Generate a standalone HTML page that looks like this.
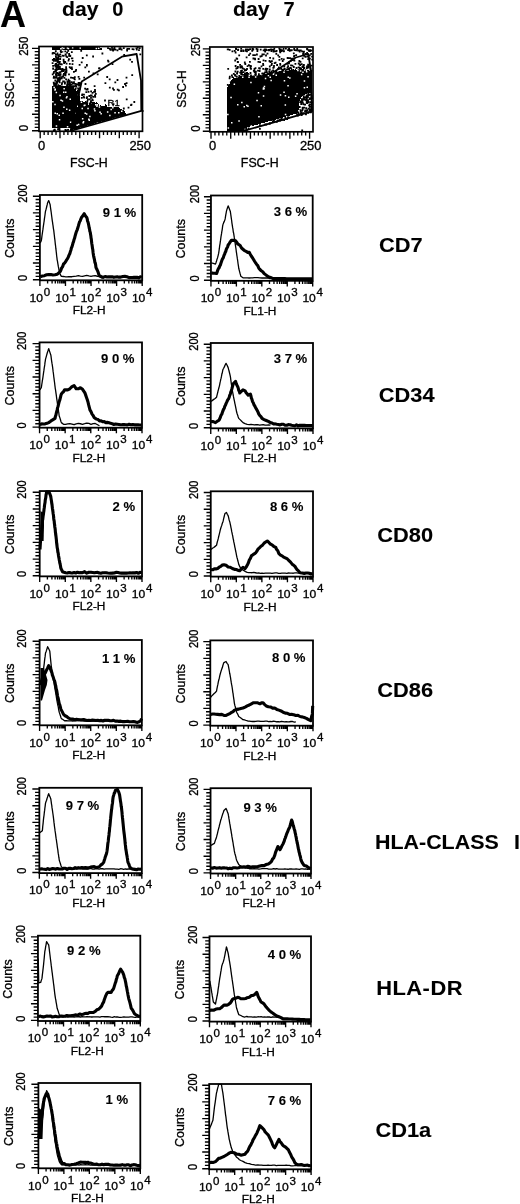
<!DOCTYPE html>
<html><head><meta charset="utf-8"><style>html,body{margin:0;padding:0;background:#fff;}svg{display:block;will-change:transform;}</style></head><body>
<svg width="520" height="1204" viewBox="0 0 520 1204" font-family='"Liberation Sans", sans-serif'>
<style>text[font-weight="normal"]{stroke:#000;stroke-width:0.3px;}text[font-weight="bold"]{stroke:#000;stroke-width:0.1px;}</style>
<rect width="520" height="1204" fill="#fff"/>
<text x="0" y="27" font-size="36" font-weight="bold" text-anchor="start" >A</text>
<text transform="translate(62 16.2) scale(1.06 1)" font-size="20" font-weight="bold" text-anchor="start" >day</text>
<text x="112.3" y="16.2" font-size="20" font-weight="bold" text-anchor="start" >0</text>
<text transform="translate(233.1 16.2) scale(1.06 1)" font-size="20" font-weight="bold" text-anchor="start" >day</text>
<text x="283.5" y="16.2" font-size="20" font-weight="bold" text-anchor="start" >7</text>
<path d="M52 47h48v1h-48zM52 48h48v1h-48zM52 49h48v1h-48zM52 86h20v1h-20zM52 87h22v1h-22zM52 88h22v1h-22zM52 89h23v1h-23zM78 89h1v1h-1zM52 90h24v1h-24zM77 90h2v1h-2zM52 91h27v1h-27zM52 92h27v1h-27zM52 93h27v1h-27zM52 94h28v1h-28zM52 95h28v1h-28zM52 96h28v1h-28zM52 97h28v1h-28zM52 98h28v1h-28zM52 99h28v1h-28zM52 100h28v1h-28zM52 101h31v1h-31zM85 101h1v1h-1zM52 102h35v1h-35zM93 102h2v1h-2zM96 102h1v1h-1zM52 103h36v1h-36zM89 103h2v1h-2zM92 103h6v1h-6zM52 104h36v1h-36zM89 104h10v1h-10zM105 104h1v1h-1zM52 105h47v1h-47zM100 105h1v1h-1zM105 105h2v1h-2zM52 106h55v1h-55zM52 107h67v1h-67zM52 108h68v1h-68zM52 109h70v1h-70zM52 110h72v1h-72zM52 111h73v1h-73zM52 112h73v1h-73zM52 113h74v1h-74zM52 114h74v1h-74zM52 115h71v1h-71zM52 116h67v1h-67zM52 117h64v1h-64zM52 118h60v1h-60zM52 119h57v1h-57zM52 120h53v1h-53zM52 121h49v1h-49zM52 122h46v1h-46zM52 123h42v1h-42zM52 124h39v1h-39zM52 125h35v1h-35zM52 126h32v1h-32zM52 127h28v1h-28zM72 128h5v1h-5zM72 129h1v1h-1z" fill="#000"/>
<path d="M107.1 47.2h1.8v1.8h-1.8zM111.1 46.9h1.8v1.8h-1.8zM113.6 46.9h1.8v1.8h-1.8zM113.2 47.7h1.8v1.8h-1.8zM118.5 47.5h1.8v1.8h-1.8zM119.5 47.2h1.8v1.8h-1.8zM122.9 47.2h1.8v1.8h-1.8zM135.5 47.5h1.8v1.8h-1.8zM136.8 46.7h1.8v1.8h-1.8zM138.8 47.3h1.8v1.8h-1.8zM100.2 48.1h1.8v1.8h-1.8zM100.0 47.9h1.8v1.8h-1.8zM108.9 48.0h1.8v1.8h-1.8zM109.7 48.5h1.8v1.8h-1.8zM113.6 48.4h1.8v1.8h-1.8zM113.2 48.7h1.8v1.8h-1.8zM118.5 48.3h1.8v1.8h-1.8zM119.0 48.0h1.8v1.8h-1.8zM120.7 48.6h1.8v1.8h-1.8zM126.5 48.0h1.8v1.8h-1.8zM128.3 47.9h1.8v1.8h-1.8zM131.6 48.2h1.8v1.8h-1.8zM132.7 48.4h1.8v1.8h-1.8zM135.9 48.7h1.8v1.8h-1.8zM109.6 48.9h1.8v1.8h-1.8zM111.6 48.9h1.8v1.8h-1.8zM112.0 48.8h1.8v1.8h-1.8zM112.2 49.6h1.8v1.8h-1.8zM114.6 48.7h1.8v1.8h-1.8zM116.6 49.5h1.8v1.8h-1.8zM126.2 49.6h1.8v1.8h-1.8zM126.2 49.1h1.8v1.8h-1.8zM138.1 49.3h1.8v1.8h-1.8zM54.9 50.2h1.8v1.8h-1.8zM60.3 49.7h1.8v1.8h-1.8zM59.8 50.2h1.8v1.8h-1.8zM61.5 50.6h1.8v1.8h-1.8zM64.4 50.4h1.8v1.8h-1.8zM67.3 49.9h1.8v1.8h-1.8zM80.3 50.0h1.8v1.8h-1.8zM60.2 51.3h1.8v1.8h-1.8zM66.2 51.7h1.8v1.8h-1.8zM70.9 51.3h1.8v1.8h-1.8zM51.7 52.6h1.8v1.8h-1.8zM52.3 52.0h1.8v1.8h-1.8zM53.9 52.3h1.8v1.8h-1.8zM56.6 52.4h1.8v1.8h-1.8zM101.5 52.6h1.8v1.8h-1.8zM59.4 53.4h1.8v1.8h-1.8zM64.6 53.6h1.8v1.8h-1.8zM64.8 53.5h1.8v1.8h-1.8zM68.2 53.1h1.8v1.8h-1.8zM139.4 53.4h1.8v1.8h-1.8zM54.9 53.8h1.8v1.8h-1.8zM56.6 53.9h1.8v1.8h-1.8zM57.8 54.2h1.8v1.8h-1.8zM85.9 54.4h1.8v1.8h-1.8zM123.3 54.1h1.8v1.8h-1.8zM55.0 55.7h1.8v1.8h-1.8zM58.1 55.5h1.8v1.8h-1.8zM61.8 54.8h1.8v1.8h-1.8zM62.7 55.0h1.8v1.8h-1.8zM65.4 55.5h1.8v1.8h-1.8zM68.2 55.0h1.8v1.8h-1.8zM69.3 55.1h1.8v1.8h-1.8zM69.4 54.8h1.8v1.8h-1.8zM92.2 55.6h1.8v1.8h-1.8zM57.4 55.9h1.8v1.8h-1.8zM59.7 55.7h1.8v1.8h-1.8zM66.3 56.2h1.8v1.8h-1.8zM55.3 56.7h1.8v1.8h-1.8zM56.1 57.3h1.8v1.8h-1.8zM56.6 57.2h1.8v1.8h-1.8zM57.1 57.6h1.8v1.8h-1.8zM71.5 57.5h1.8v1.8h-1.8zM70.9 57.5h1.8v1.8h-1.8zM81.8 57.1h1.8v1.8h-1.8zM53.0 57.9h1.8v1.8h-1.8zM53.5 58.6h1.8v1.8h-1.8zM53.7 57.9h1.8v1.8h-1.8zM57.4 58.4h1.8v1.8h-1.8zM57.4 58.2h1.8v1.8h-1.8zM59.3 58.1h1.8v1.8h-1.8zM62.7 58.7h1.8v1.8h-1.8zM68.0 58.2h1.8v1.8h-1.8zM51.9 58.9h1.8v1.8h-1.8zM55.5 59.1h1.8v1.8h-1.8zM56.4 59.0h1.8v1.8h-1.8zM67.6 59.7h1.8v1.8h-1.8zM107.1 59.7h1.8v1.8h-1.8zM129.3 58.8h1.8v1.8h-1.8zM52.9 60.0h1.8v1.8h-1.8zM54.8 60.0h1.8v1.8h-1.8zM56.7 59.8h1.8v1.8h-1.8zM57.3 60.5h1.8v1.8h-1.8zM57.0 60.7h1.8v1.8h-1.8zM62.8 60.0h1.8v1.8h-1.8zM71.8 60.0h1.8v1.8h-1.8zM56.6 61.2h1.8v1.8h-1.8zM58.2 61.3h1.8v1.8h-1.8zM59.0 61.0h1.8v1.8h-1.8zM63.1 61.4h1.8v1.8h-1.8zM64.3 61.1h1.8v1.8h-1.8zM80.8 61.4h1.8v1.8h-1.8zM107.6 60.7h1.8v1.8h-1.8zM131.1 60.9h1.8v1.8h-1.8zM51.7 62.2h1.8v1.8h-1.8zM63.3 62.2h1.8v1.8h-1.8zM54.8 62.9h1.8v1.8h-1.8zM55.2 63.7h1.8v1.8h-1.8zM55.4 62.9h1.8v1.8h-1.8zM57.6 63.6h1.8v1.8h-1.8zM58.4 63.0h1.8v1.8h-1.8zM60.0 63.3h1.8v1.8h-1.8zM60.9 63.5h1.8v1.8h-1.8zM65.7 62.8h1.8v1.8h-1.8zM68.9 63.0h1.8v1.8h-1.8zM71.6 63.2h1.8v1.8h-1.8zM111.6 63.3h1.8v1.8h-1.8zM54.1 64.5h1.8v1.8h-1.8zM55.4 63.9h1.8v1.8h-1.8zM56.2 64.3h1.8v1.8h-1.8zM57.5 64.3h1.8v1.8h-1.8zM78.7 63.9h1.8v1.8h-1.8zM86.0 64.7h1.8v1.8h-1.8zM86.0 63.9h1.8v1.8h-1.8zM52.2 64.9h1.8v1.8h-1.8zM54.8 64.8h1.8v1.8h-1.8zM55.7 65.3h1.8v1.8h-1.8zM57.2 65.6h1.8v1.8h-1.8zM54.7 65.8h1.8v1.8h-1.8zM59.0 65.8h1.8v1.8h-1.8zM65.2 66.3h1.8v1.8h-1.8zM68.8 66.2h1.8v1.8h-1.8zM70.9 66.6h1.8v1.8h-1.8zM84.4 66.4h1.8v1.8h-1.8zM52.2 67.4h1.8v1.8h-1.8zM55.8 66.8h1.8v1.8h-1.8zM57.4 66.8h1.8v1.8h-1.8zM59.0 67.3h1.8v1.8h-1.8zM69.7 67.2h1.8v1.8h-1.8zM98.1 67.4h1.8v1.8h-1.8zM98.6 67.2h1.8v1.8h-1.8zM52.3 68.0h1.8v1.8h-1.8zM55.5 67.7h1.8v1.8h-1.8zM57.5 68.1h1.8v1.8h-1.8zM59.6 68.1h1.8v1.8h-1.8zM59.6 68.0h1.8v1.8h-1.8zM58.9 68.0h1.8v1.8h-1.8zM60.8 68.4h1.8v1.8h-1.8zM61.7 68.0h1.8v1.8h-1.8zM65.4 68.1h1.8v1.8h-1.8zM64.7 68.5h1.8v1.8h-1.8zM71.1 68.2h1.8v1.8h-1.8zM54.4 69.0h1.8v1.8h-1.8zM55.0 68.7h1.8v1.8h-1.8zM55.2 69.6h1.8v1.8h-1.8zM55.9 68.9h1.8v1.8h-1.8zM61.3 69.0h1.8v1.8h-1.8zM61.7 68.9h1.8v1.8h-1.8zM63.0 68.9h1.8v1.8h-1.8zM75.2 68.9h1.8v1.8h-1.8zM54.7 70.3h1.8v1.8h-1.8zM54.9 70.2h1.8v1.8h-1.8zM60.7 70.5h1.8v1.8h-1.8zM62.3 70.2h1.8v1.8h-1.8zM64.5 70.6h1.8v1.8h-1.8zM65.6 69.8h1.8v1.8h-1.8zM74.7 70.3h1.8v1.8h-1.8zM53.1 70.9h1.8v1.8h-1.8zM58.6 71.4h1.8v1.8h-1.8zM59.5 71.3h1.8v1.8h-1.8zM65.5 71.4h1.8v1.8h-1.8zM73.0 71.0h1.8v1.8h-1.8zM88.0 70.7h1.8v1.8h-1.8zM52.8 72.1h1.8v1.8h-1.8zM55.3 72.1h1.8v1.8h-1.8zM56.3 72.5h1.8v1.8h-1.8zM56.6 72.3h1.8v1.8h-1.8zM56.2 71.9h1.8v1.8h-1.8zM64.1 71.8h1.8v1.8h-1.8zM64.1 71.9h1.8v1.8h-1.8zM92.6 72.5h1.8v1.8h-1.8zM51.8 73.5h1.8v1.8h-1.8zM55.1 73.5h1.8v1.8h-1.8zM57.5 72.9h1.8v1.8h-1.8zM57.3 73.6h1.8v1.8h-1.8zM57.6 72.9h1.8v1.8h-1.8zM58.2 73.5h1.8v1.8h-1.8zM59.6 73.6h1.8v1.8h-1.8zM59.7 73.3h1.8v1.8h-1.8zM63.0 73.0h1.8v1.8h-1.8zM64.2 72.8h1.8v1.8h-1.8zM64.7 72.9h1.8v1.8h-1.8zM68.1 73.4h1.8v1.8h-1.8zM96.8 73.5h1.8v1.8h-1.8zM55.2 74.0h1.8v1.8h-1.8zM55.0 73.7h1.8v1.8h-1.8zM57.5 74.5h1.8v1.8h-1.8zM59.3 73.8h1.8v1.8h-1.8zM62.6 74.2h1.8v1.8h-1.8zM64.6 74.4h1.8v1.8h-1.8zM131.3 74.2h1.8v1.8h-1.8zM55.5 75.0h1.8v1.8h-1.8zM59.0 75.0h1.8v1.8h-1.8zM53.0 75.7h1.8v1.8h-1.8zM54.5 76.5h1.8v1.8h-1.8zM55.1 76.3h1.8v1.8h-1.8zM60.4 76.4h1.8v1.8h-1.8zM61.4 75.8h1.8v1.8h-1.8zM62.3 75.8h1.8v1.8h-1.8zM73.9 76.2h1.8v1.8h-1.8zM77.7 76.0h1.8v1.8h-1.8zM106.3 76.1h1.8v1.8h-1.8zM125.6 76.7h1.8v1.8h-1.8zM52.8 76.9h1.8v1.8h-1.8zM54.0 76.9h1.8v1.8h-1.8zM55.9 76.8h1.8v1.8h-1.8zM58.2 77.2h1.8v1.8h-1.8zM58.2 77.1h1.8v1.8h-1.8zM58.6 77.3h1.8v1.8h-1.8zM59.7 77.3h1.8v1.8h-1.8zM60.9 77.5h1.8v1.8h-1.8zM63.5 76.9h1.8v1.8h-1.8zM70.1 76.7h1.8v1.8h-1.8zM71.9 76.9h1.8v1.8h-1.8zM73.4 77.6h1.8v1.8h-1.8zM83.3 76.8h1.8v1.8h-1.8zM56.6 77.8h1.8v1.8h-1.8zM57.7 78.7h1.8v1.8h-1.8zM57.5 78.3h1.8v1.8h-1.8zM57.8 77.8h1.8v1.8h-1.8zM58.8 78.6h1.8v1.8h-1.8zM59.6 77.8h1.8v1.8h-1.8zM65.2 78.4h1.8v1.8h-1.8zM73.9 78.5h1.8v1.8h-1.8zM78.5 77.9h1.8v1.8h-1.8zM108.8 78.4h1.8v1.8h-1.8zM54.4 79.6h1.8v1.8h-1.8zM57.1 78.8h1.8v1.8h-1.8zM58.2 78.9h1.8v1.8h-1.8zM59.0 78.9h1.8v1.8h-1.8zM67.6 78.8h1.8v1.8h-1.8zM116.6 79.1h1.8v1.8h-1.8zM56.6 80.0h1.8v1.8h-1.8zM58.4 80.3h1.8v1.8h-1.8zM62.2 80.6h1.8v1.8h-1.8zM63.0 80.6h1.8v1.8h-1.8zM62.8 80.6h1.8v1.8h-1.8zM66.5 80.5h1.8v1.8h-1.8zM67.9 80.4h1.8v1.8h-1.8zM68.7 80.1h1.8v1.8h-1.8zM55.6 80.9h1.8v1.8h-1.8zM55.8 81.1h1.8v1.8h-1.8zM56.3 81.0h1.8v1.8h-1.8zM56.4 81.6h1.8v1.8h-1.8zM58.8 81.4h1.8v1.8h-1.8zM64.1 81.5h1.8v1.8h-1.8zM69.0 81.4h1.8v1.8h-1.8zM70.9 81.2h1.8v1.8h-1.8zM73.1 81.3h1.8v1.8h-1.8zM114.4 81.4h1.8v1.8h-1.8zM52.8 81.8h1.8v1.8h-1.8zM53.0 82.4h1.8v1.8h-1.8zM54.2 82.6h1.8v1.8h-1.8zM55.9 82.5h1.8v1.8h-1.8zM61.1 82.3h1.8v1.8h-1.8zM66.6 81.8h1.8v1.8h-1.8zM66.8 82.5h1.8v1.8h-1.8zM67.1 82.3h1.8v1.8h-1.8zM66.8 82.7h1.8v1.8h-1.8zM69.0 82.2h1.8v1.8h-1.8zM72.6 82.2h1.8v1.8h-1.8zM72.8 82.4h1.8v1.8h-1.8zM77.7 82.1h1.8v1.8h-1.8zM78.4 82.1h1.8v1.8h-1.8zM79.3 82.3h1.8v1.8h-1.8zM104.5 82.3h1.8v1.8h-1.8zM125.7 82.2h1.8v1.8h-1.8zM53.2 83.6h1.8v1.8h-1.8zM54.2 83.1h1.8v1.8h-1.8zM60.9 83.7h1.8v1.8h-1.8zM64.0 82.8h1.8v1.8h-1.8zM67.6 83.7h1.8v1.8h-1.8zM70.2 83.4h1.8v1.8h-1.8zM72.0 82.8h1.8v1.8h-1.8zM74.2 82.9h1.8v1.8h-1.8zM75.4 83.2h1.8v1.8h-1.8zM76.2 83.6h1.8v1.8h-1.8zM79.1 83.0h1.8v1.8h-1.8zM79.0 83.7h1.8v1.8h-1.8zM84.6 83.1h1.8v1.8h-1.8zM124.1 83.1h1.8v1.8h-1.8zM55.2 83.9h1.8v1.8h-1.8zM57.4 84.2h1.8v1.8h-1.8zM66.4 83.8h1.8v1.8h-1.8zM66.1 84.5h1.8v1.8h-1.8zM68.5 84.0h1.8v1.8h-1.8zM70.6 84.0h1.8v1.8h-1.8zM77.8 83.8h1.8v1.8h-1.8zM78.2 83.9h1.8v1.8h-1.8zM53.3 84.8h1.8v1.8h-1.8zM54.5 84.9h1.8v1.8h-1.8zM55.0 84.7h1.8v1.8h-1.8zM57.2 85.1h1.8v1.8h-1.8zM57.7 84.9h1.8v1.8h-1.8zM59.1 85.0h1.8v1.8h-1.8zM66.7 85.6h1.8v1.8h-1.8zM69.1 84.7h1.8v1.8h-1.8zM69.1 84.9h1.8v1.8h-1.8zM71.6 85.5h1.8v1.8h-1.8zM72.2 85.5h1.8v1.8h-1.8zM72.8 85.2h1.8v1.8h-1.8zM73.3 85.5h1.8v1.8h-1.8zM75.4 85.7h1.8v1.8h-1.8zM74.8 85.0h1.8v1.8h-1.8zM78.1 84.7h1.8v1.8h-1.8zM93.7 85.3h1.8v1.8h-1.8zM125.0 84.7h1.8v1.8h-1.8zM122.2 86.1h1.8v1.8h-1.8zM74.8 87.7h1.8v1.8h-1.8zM77.2 87.5h1.8v1.8h-1.8zM79.2 87.2h1.8v1.8h-1.8zM108.9 86.8h1.8v1.8h-1.8zM112.1 87.6h1.8v1.8h-1.8zM74.3 88.5h1.8v1.8h-1.8zM78.3 88.7h1.8v1.8h-1.8zM78.7 88.5h1.8v1.8h-1.8zM84.2 87.7h1.8v1.8h-1.8zM86.6 88.1h1.8v1.8h-1.8zM116.8 88.7h1.8v1.8h-1.8zM77.6 89.2h1.8v1.8h-1.8zM85.5 88.7h1.8v1.8h-1.8zM86.7 88.7h1.8v1.8h-1.8zM94.1 89.1h1.8v1.8h-1.8zM113.0 88.9h1.8v1.8h-1.8zM118.0 89.5h1.8v1.8h-1.8zM90.2 90.4h1.8v1.8h-1.8zM85.4 91.2h1.8v1.8h-1.8zM87.6 90.9h1.8v1.8h-1.8zM93.2 91.0h1.8v1.8h-1.8zM94.2 90.8h1.8v1.8h-1.8zM94.1 90.9h1.8v1.8h-1.8zM91.6 92.0h1.8v1.8h-1.8zM81.5 93.6h1.8v1.8h-1.8zM94.9 92.9h1.8v1.8h-1.8zM81.2 94.2h1.8v1.8h-1.8zM83.1 93.8h1.8v1.8h-1.8zM90.0 94.6h1.8v1.8h-1.8zM90.8 94.6h1.8v1.8h-1.8zM94.0 94.6h1.8v1.8h-1.8zM88.4 95.1h1.8v1.8h-1.8zM94.2 95.0h1.8v1.8h-1.8zM82.8 95.9h1.8v1.8h-1.8zM86.1 96.2h1.8v1.8h-1.8zM90.1 96.7h1.8v1.8h-1.8zM92.3 96.0h1.8v1.8h-1.8zM94.3 95.9h1.8v1.8h-1.8zM80.9 97.0h1.8v1.8h-1.8zM83.3 96.7h1.8v1.8h-1.8zM85.9 97.1h1.8v1.8h-1.8zM87.0 98.6h1.8v1.8h-1.8zM88.9 98.4h1.8v1.8h-1.8zM91.4 98.6h1.8v1.8h-1.8zM125.8 98.5h1.8v1.8h-1.8zM91.9 99.4h1.8v1.8h-1.8zM104.1 99.6h1.8v1.8h-1.8zM86.4 100.4h1.8v1.8h-1.8zM90.1 100.2h1.8v1.8h-1.8zM86.1 101.6h1.8v1.8h-1.8zM90.0 101.2h1.8v1.8h-1.8zM133.4 101.1h1.8v1.8h-1.8zM88.8 102.6h1.8v1.8h-1.8zM91.3 102.3h1.8v1.8h-1.8zM91.8 102.1h1.8v1.8h-1.8zM112.6 103.3h1.8v1.8h-1.8zM130.6 103.7h1.8v1.8h-1.8zM130.1 104.3h1.8v1.8h-1.8zM127.6 106.7h1.8v1.8h-1.8zM122.9 107.6h1.8v1.8h-1.8zM141.7 110.1h1.8v1.8h-1.8zM57.1 128.2h1.8v1.8h-1.8zM57.3 128.4h1.8v1.8h-1.8zM58.6 127.8h1.8v1.8h-1.8zM58.3 128.1h1.8v1.8h-1.8zM70.7 128.6h1.8v1.8h-1.8zM52.9 129.6h1.8v1.8h-1.8zM54.0 129.5h1.8v1.8h-1.8zM53.8 128.8h1.8v1.8h-1.8zM58.7 129.2h1.8v1.8h-1.8zM64.5 128.9h1.8v1.8h-1.8zM65.4 129.5h1.8v1.8h-1.8zM64.8 129.5h1.8v1.8h-1.8zM67.2 128.9h1.8v1.8h-1.8zM71.2 129.0h1.8v1.8h-1.8z" fill="#000"/>
<path d="M61.5 47.1h1.5v1.5h-1.5zM63.1 47.4h1.5v1.5h-1.5zM66.7 47.2h1.5v1.5h-1.5zM71.9 47.1h1.5v1.5h-1.5zM79.5 47.3h1.5v1.5h-1.5zM97.9 47.5h1.5v1.5h-1.5zM60.1 48.1h1.5v1.5h-1.5zM67.7 47.8h1.5v1.5h-1.5zM95.6 47.7h1.5v1.5h-1.5zM61.7 49.7h1.5v1.5h-1.5zM53.4 86.8h1.5v1.5h-1.5zM54.5 88.5h1.5v1.5h-1.5zM63.4 88.1h1.5v1.5h-1.5zM54.3 89.3h1.5v1.5h-1.5zM63.0 91.4h1.5v1.5h-1.5zM65.0 91.6h1.5v1.5h-1.5zM55.6 91.8h1.5v1.5h-1.5zM77.8 94.2h1.5v1.5h-1.5zM59.3 94.8h1.5v1.5h-1.5zM66.2 96.0h1.5v1.5h-1.5zM65.7 96.9h1.5v1.5h-1.5zM69.5 98.4h1.5v1.5h-1.5zM60.3 99.4h1.5v1.5h-1.5zM61.7 100.3h1.5v1.5h-1.5zM52.1 101.1h1.5v1.5h-1.5zM80.7 101.4h1.5v1.5h-1.5zM54.3 103.7h1.5v1.5h-1.5zM84.1 104.5h1.5v1.5h-1.5zM95.0 104.1h1.5v1.5h-1.5zM96.7 104.1h1.5v1.5h-1.5zM76.5 105.4h1.5v1.5h-1.5zM83.5 104.8h1.5v1.5h-1.5zM96.2 105.4h1.5v1.5h-1.5zM63.2 106.5h1.5v1.5h-1.5zM98.7 106.3h1.5v1.5h-1.5zM112.1 107.1h1.5v1.5h-1.5zM66.0 108.6h1.5v1.5h-1.5zM81.5 107.8h1.5v1.5h-1.5zM87.3 107.7h1.5v1.5h-1.5zM93.7 108.2h1.5v1.5h-1.5zM68.9 109.6h1.5v1.5h-1.5zM110.4 108.8h1.5v1.5h-1.5zM94.2 110.0h1.5v1.5h-1.5zM121.0 110.6h1.5v1.5h-1.5zM99.3 111.4h1.5v1.5h-1.5zM106.9 111.2h1.5v1.5h-1.5zM54.5 112.5h1.5v1.5h-1.5zM62.3 112.5h1.5v1.5h-1.5zM74.1 112.5h1.5v1.5h-1.5zM84.5 112.6h1.5v1.5h-1.5zM114.3 112.0h1.5v1.5h-1.5zM118.0 111.9h1.5v1.5h-1.5zM56.5 113.1h1.5v1.5h-1.5zM85.9 113.2h1.5v1.5h-1.5zM100.4 112.9h1.5v1.5h-1.5zM58.5 114.6h1.5v1.5h-1.5zM109.1 114.7h1.5v1.5h-1.5zM89.1 115.7h1.5v1.5h-1.5zM114.7 117.4h1.5v1.5h-1.5zM81.9 118.1h1.5v1.5h-1.5zM88.1 118.6h1.5v1.5h-1.5zM58.8 118.9h1.5v1.5h-1.5zM88.5 119.5h1.5v1.5h-1.5zM69.9 121.5h1.5v1.5h-1.5zM82.8 120.9h1.5v1.5h-1.5zM82.4 121.9h1.5v1.5h-1.5zM96.8 121.9h1.5v1.5h-1.5zM76.4 124.6h1.5v1.5h-1.5zM77.9 123.7h1.5v1.5h-1.5zM55.7 125.3h1.5v1.5h-1.5zM66.8 126.1h1.5v1.5h-1.5z" fill="#fff"/>
<path d="M301 68h1v1h-1zM303 68h2v1h-2zM283 69h1v1h-1zM289 69h1v1h-1zM291 69h1v1h-1zM293 69h1v1h-1zM295 69h1v1h-1zM301 69h5v1h-5zM283 70h1v1h-1zM285 70h1v1h-1zM289 70h9v1h-9zM299 70h7v1h-7zM307 70h2v1h-2zM311 70h1v1h-1zM279 71h33v1h-33zM246 72h2v1h-2zM269 72h4v1h-4zM276 72h36v1h-36zM244 73h5v1h-5zM262 73h1v1h-1zM269 73h5v1h-5zM276 73h36v1h-36zM244 74h6v1h-6zM262 74h5v1h-5zM268 74h44v1h-44zM244 75h7v1h-7zM255 75h1v1h-1zM258 75h1v1h-1zM261 75h51v1h-51zM239 76h14v1h-14zM254 76h58v1h-58zM233 77h1v1h-1zM238 77h74v1h-74zM233 78h79v1h-79zM232 79h80v1h-80zM231 80h81v1h-81zM231 81h81v1h-81zM230 82h82v1h-82zM230 83h82v1h-82zM229 84h83v1h-83zM228 85h84v1h-84zM228 86h84v1h-84zM227 87h85v1h-85zM227 88h85v1h-85zM227 89h85v1h-85zM227 90h85v1h-85zM227 91h85v1h-85zM227 92h85v1h-85zM227 93h80v1h-80zM227 94h78v1h-78zM227 95h76v1h-76zM227 96h75v1h-75zM227 97h74v1h-74zM227 98h74v1h-74zM227 99h73v1h-73zM227 100h73v1h-73zM227 101h72v1h-72zM227 102h72v1h-72zM227 103h72v1h-72zM227 104h72v1h-72zM227 105h72v1h-72zM227 106h72v1h-72zM227 107h72v1h-72zM227 108h72v1h-72zM227 109h72v1h-72zM227 110h72v1h-72zM227 111h72v1h-72zM227 112h72v1h-72zM227 113h70v1h-70zM227 114h66v1h-66zM227 115h63v1h-63zM227 116h59v1h-59zM227 117h56v1h-56zM227 118h52v1h-52zM227 119h49v1h-49zM227 120h45v1h-45zM227 121h41v1h-41zM227 122h38v1h-38zM227 123h34v1h-34zM227 124h31v1h-31zM227 125h27v1h-27zM227 126h23v1h-23zM227 127h20v1h-20zM227 128h16v1h-16zM227 129h16v1h-16zM227 130h16v1h-16z" fill="#000"/>
<path d="M226.8 48.5h1.8v1.8h-1.8zM227.4 48.4h1.8v1.8h-1.8zM235.2 48.1h1.8v1.8h-1.8zM235.0 47.7h1.8v1.8h-1.8zM240.3 47.9h1.8v1.8h-1.8zM244.9 48.6h1.8v1.8h-1.8zM246.6 48.5h1.8v1.8h-1.8zM247.7 48.7h1.8v1.8h-1.8zM249.2 48.2h1.8v1.8h-1.8zM251.5 48.1h1.8v1.8h-1.8zM252.3 48.6h1.8v1.8h-1.8zM252.4 48.2h1.8v1.8h-1.8zM255.6 48.0h1.8v1.8h-1.8zM256.7 48.4h1.8v1.8h-1.8zM263.8 48.5h1.8v1.8h-1.8zM264.9 48.4h1.8v1.8h-1.8zM270.2 48.6h1.8v1.8h-1.8zM273.4 47.7h1.8v1.8h-1.8zM278.4 47.7h1.8v1.8h-1.8zM279.9 48.4h1.8v1.8h-1.8zM282.7 48.0h1.8v1.8h-1.8zM285.0 47.7h1.8v1.8h-1.8zM287.6 48.5h1.8v1.8h-1.8zM288.2 47.9h1.8v1.8h-1.8zM293.3 48.1h1.8v1.8h-1.8zM296.3 48.1h1.8v1.8h-1.8zM306.1 48.0h1.8v1.8h-1.8zM306.3 48.3h1.8v1.8h-1.8zM306.5 48.4h1.8v1.8h-1.8zM228.8 48.9h1.8v1.8h-1.8zM237.1 49.2h1.8v1.8h-1.8zM237.3 48.8h1.8v1.8h-1.8zM242.2 49.6h1.8v1.8h-1.8zM244.7 49.4h1.8v1.8h-1.8zM247.7 49.2h1.8v1.8h-1.8zM256.5 48.9h1.8v1.8h-1.8zM259.8 48.8h1.8v1.8h-1.8zM262.7 49.4h1.8v1.8h-1.8zM265.2 49.1h1.8v1.8h-1.8zM267.2 49.2h1.8v1.8h-1.8zM268.0 48.9h1.8v1.8h-1.8zM268.2 49.0h1.8v1.8h-1.8zM268.1 49.4h1.8v1.8h-1.8zM269.5 48.8h1.8v1.8h-1.8zM271.1 48.8h1.8v1.8h-1.8zM272.8 49.0h1.8v1.8h-1.8zM272.9 49.4h1.8v1.8h-1.8zM279.2 49.4h1.8v1.8h-1.8zM279.0 49.6h1.8v1.8h-1.8zM281.7 49.5h1.8v1.8h-1.8zM287.2 49.2h1.8v1.8h-1.8zM289.4 49.2h1.8v1.8h-1.8zM290.4 49.4h1.8v1.8h-1.8zM290.9 49.3h1.8v1.8h-1.8zM293.7 49.2h1.8v1.8h-1.8zM295.4 49.5h1.8v1.8h-1.8zM297.3 49.6h1.8v1.8h-1.8zM298.5 49.5h1.8v1.8h-1.8zM299.9 49.5h1.8v1.8h-1.8zM307.7 49.2h1.8v1.8h-1.8zM309.5 49.2h1.8v1.8h-1.8zM231.5 50.5h1.8v1.8h-1.8zM233.8 49.9h1.8v1.8h-1.8zM240.2 50.1h1.8v1.8h-1.8zM242.3 50.2h1.8v1.8h-1.8zM244.5 50.0h1.8v1.8h-1.8zM246.1 50.5h1.8v1.8h-1.8zM251.3 50.0h1.8v1.8h-1.8zM256.5 50.1h1.8v1.8h-1.8zM264.3 50.6h1.8v1.8h-1.8zM264.0 49.8h1.8v1.8h-1.8zM270.5 50.3h1.8v1.8h-1.8zM272.6 50.6h1.8v1.8h-1.8zM274.4 50.5h1.8v1.8h-1.8zM275.7 50.0h1.8v1.8h-1.8zM275.3 50.4h1.8v1.8h-1.8zM279.2 50.6h1.8v1.8h-1.8zM280.7 50.1h1.8v1.8h-1.8zM283.1 50.2h1.8v1.8h-1.8zM282.9 50.5h1.8v1.8h-1.8zM288.8 49.9h1.8v1.8h-1.8zM298.8 50.6h1.8v1.8h-1.8zM301.2 50.5h1.8v1.8h-1.8zM303.1 50.7h1.8v1.8h-1.8zM308.3 50.2h1.8v1.8h-1.8zM309.1 50.2h1.8v1.8h-1.8zM308.7 49.8h1.8v1.8h-1.8zM309.7 49.8h1.8v1.8h-1.8zM310.6 49.8h1.8v1.8h-1.8zM234.7 51.6h1.8v1.8h-1.8zM279.4 51.4h1.8v1.8h-1.8zM302.6 51.2h1.8v1.8h-1.8zM292.9 52.4h1.8v1.8h-1.8zM306.2 52.1h1.8v1.8h-1.8zM249.3 52.8h1.8v1.8h-1.8zM256.0 53.6h1.8v1.8h-1.8zM261.5 53.6h1.8v1.8h-1.8zM263.0 53.5h1.8v1.8h-1.8zM266.6 52.8h1.8v1.8h-1.8zM275.4 53.0h1.8v1.8h-1.8zM302.2 53.1h1.8v1.8h-1.8zM304.3 52.9h1.8v1.8h-1.8zM310.3 53.0h1.8v1.8h-1.8zM238.3 54.4h1.8v1.8h-1.8zM248.1 54.2h1.8v1.8h-1.8zM252.3 54.3h1.8v1.8h-1.8zM254.1 54.3h1.8v1.8h-1.8zM265.1 54.6h1.8v1.8h-1.8zM277.3 54.4h1.8v1.8h-1.8zM295.3 54.3h1.8v1.8h-1.8zM308.9 54.5h1.8v1.8h-1.8zM259.5 55.6h1.8v1.8h-1.8zM260.8 55.2h1.8v1.8h-1.8zM293.1 55.7h1.8v1.8h-1.8zM293.4 54.9h1.8v1.8h-1.8zM303.2 55.0h1.8v1.8h-1.8zM306.5 55.6h1.8v1.8h-1.8zM245.7 56.4h1.8v1.8h-1.8zM278.5 55.9h1.8v1.8h-1.8zM304.5 56.0h1.8v1.8h-1.8zM311.2 55.8h1.8v1.8h-1.8zM235.7 57.6h1.8v1.8h-1.8zM252.5 57.6h1.8v1.8h-1.8zM269.2 56.9h1.8v1.8h-1.8zM272.4 57.6h1.8v1.8h-1.8zM286.7 57.1h1.8v1.8h-1.8zM288.5 57.2h1.8v1.8h-1.8zM289.3 57.3h1.8v1.8h-1.8zM301.8 57.4h1.8v1.8h-1.8zM236.3 58.0h1.8v1.8h-1.8zM254.0 57.8h1.8v1.8h-1.8zM254.2 58.4h1.8v1.8h-1.8zM257.7 58.1h1.8v1.8h-1.8zM280.8 58.0h1.8v1.8h-1.8zM282.9 58.5h1.8v1.8h-1.8zM290.4 57.9h1.8v1.8h-1.8zM291.5 57.8h1.8v1.8h-1.8zM307.3 58.3h1.8v1.8h-1.8zM309.0 57.8h1.8v1.8h-1.8zM234.3 59.6h1.8v1.8h-1.8zM262.6 59.5h1.8v1.8h-1.8zM278.5 58.9h1.8v1.8h-1.8zM291.2 59.2h1.8v1.8h-1.8zM293.1 59.2h1.8v1.8h-1.8zM293.3 59.2h1.8v1.8h-1.8zM311.3 58.8h1.8v1.8h-1.8zM264.7 59.9h1.8v1.8h-1.8zM268.6 60.1h1.8v1.8h-1.8zM268.8 60.4h1.8v1.8h-1.8zM271.0 60.2h1.8v1.8h-1.8zM281.8 60.1h1.8v1.8h-1.8zM289.7 60.2h1.8v1.8h-1.8zM293.5 59.7h1.8v1.8h-1.8zM298.5 60.1h1.8v1.8h-1.8zM237.1 61.1h1.8v1.8h-1.8zM236.8 61.2h1.8v1.8h-1.8zM243.9 61.6h1.8v1.8h-1.8zM249.0 61.0h1.8v1.8h-1.8zM257.5 60.9h1.8v1.8h-1.8zM259.2 61.2h1.8v1.8h-1.8zM269.7 61.1h1.8v1.8h-1.8zM288.1 61.2h1.8v1.8h-1.8zM299.6 60.9h1.8v1.8h-1.8zM274.7 61.8h1.8v1.8h-1.8zM273.8 62.2h1.8v1.8h-1.8zM288.1 62.5h1.8v1.8h-1.8zM297.8 62.6h1.8v1.8h-1.8zM244.4 63.1h1.8v1.8h-1.8zM262.2 62.9h1.8v1.8h-1.8zM271.0 62.8h1.8v1.8h-1.8zM279.3 63.0h1.8v1.8h-1.8zM286.6 63.0h1.8v1.8h-1.8zM294.5 62.9h1.8v1.8h-1.8zM298.8 63.6h1.8v1.8h-1.8zM300.8 63.2h1.8v1.8h-1.8zM239.2 64.0h1.8v1.8h-1.8zM248.0 64.2h1.8v1.8h-1.8zM262.4 64.3h1.8v1.8h-1.8zM270.6 64.2h1.8v1.8h-1.8zM276.2 64.1h1.8v1.8h-1.8zM279.4 64.0h1.8v1.8h-1.8zM290.1 64.5h1.8v1.8h-1.8zM299.4 64.1h1.8v1.8h-1.8zM303.0 64.1h1.8v1.8h-1.8zM307.2 63.8h1.8v1.8h-1.8zM310.8 64.7h1.8v1.8h-1.8zM234.7 65.1h1.8v1.8h-1.8zM240.7 65.2h1.8v1.8h-1.8zM246.7 65.3h1.8v1.8h-1.8zM249.3 64.9h1.8v1.8h-1.8zM249.6 65.6h1.8v1.8h-1.8zM250.1 65.3h1.8v1.8h-1.8zM260.6 65.5h1.8v1.8h-1.8zM268.9 65.6h1.8v1.8h-1.8zM273.1 65.0h1.8v1.8h-1.8zM287.2 65.3h1.8v1.8h-1.8zM291.6 64.8h1.8v1.8h-1.8zM302.3 64.8h1.8v1.8h-1.8zM306.1 65.6h1.8v1.8h-1.8zM307.4 64.9h1.8v1.8h-1.8zM307.0 65.5h1.8v1.8h-1.8zM308.0 65.2h1.8v1.8h-1.8zM237.0 66.1h1.8v1.8h-1.8zM239.4 66.5h1.8v1.8h-1.8zM239.5 65.9h1.8v1.8h-1.8zM241.1 66.1h1.8v1.8h-1.8zM272.9 66.5h1.8v1.8h-1.8zM277.9 66.5h1.8v1.8h-1.8zM283.4 65.8h1.8v1.8h-1.8zM286.6 66.7h1.8v1.8h-1.8zM292.9 66.1h1.8v1.8h-1.8zM297.7 66.5h1.8v1.8h-1.8zM298.0 66.5h1.8v1.8h-1.8zM301.5 65.9h1.8v1.8h-1.8zM302.0 66.3h1.8v1.8h-1.8zM303.0 66.5h1.8v1.8h-1.8zM307.1 66.7h1.8v1.8h-1.8zM307.8 66.4h1.8v1.8h-1.8zM235.4 67.6h1.8v1.8h-1.8zM236.6 67.1h1.8v1.8h-1.8zM239.9 66.8h1.8v1.8h-1.8zM241.9 67.5h1.8v1.8h-1.8zM249.7 67.3h1.8v1.8h-1.8zM254.6 67.2h1.8v1.8h-1.8zM258.2 67.3h1.8v1.8h-1.8zM259.0 67.6h1.8v1.8h-1.8zM272.4 66.9h1.8v1.8h-1.8zM287.7 67.5h1.8v1.8h-1.8zM289.5 66.9h1.8v1.8h-1.8zM290.3 67.4h1.8v1.8h-1.8zM295.6 67.1h1.8v1.8h-1.8zM298.9 67.1h1.8v1.8h-1.8zM299.7 67.5h1.8v1.8h-1.8zM303.4 66.7h1.8v1.8h-1.8zM305.9 67.4h1.8v1.8h-1.8zM309.7 67.5h1.8v1.8h-1.8zM227.3 67.9h1.8v1.8h-1.8zM243.4 68.3h1.8v1.8h-1.8zM246.1 68.1h1.8v1.8h-1.8zM250.1 67.9h1.8v1.8h-1.8zM253.6 67.9h1.8v1.8h-1.8zM262.3 68.0h1.8v1.8h-1.8zM264.5 68.6h1.8v1.8h-1.8zM265.0 67.8h1.8v1.8h-1.8zM266.5 67.9h1.8v1.8h-1.8zM268.9 68.5h1.8v1.8h-1.8zM277.0 68.3h1.8v1.8h-1.8zM278.0 68.0h1.8v1.8h-1.8zM280.2 68.0h1.8v1.8h-1.8zM283.5 67.9h1.8v1.8h-1.8zM284.0 68.2h1.8v1.8h-1.8zM287.7 68.1h1.8v1.8h-1.8zM245.3 69.1h1.8v1.8h-1.8zM253.5 69.2h1.8v1.8h-1.8zM265.5 68.9h1.8v1.8h-1.8zM265.6 69.4h1.8v1.8h-1.8zM272.2 69.4h1.8v1.8h-1.8zM281.3 68.7h1.8v1.8h-1.8zM286.0 68.8h1.8v1.8h-1.8zM288.1 68.8h1.8v1.8h-1.8zM292.3 69.1h1.8v1.8h-1.8zM297.7 69.2h1.8v1.8h-1.8zM299.1 69.3h1.8v1.8h-1.8zM300.4 68.8h1.8v1.8h-1.8zM310.5 69.6h1.8v1.8h-1.8zM234.5 70.6h1.8v1.8h-1.8zM240.2 70.1h1.8v1.8h-1.8zM241.1 69.8h1.8v1.8h-1.8zM243.9 69.7h1.8v1.8h-1.8zM252.9 69.9h1.8v1.8h-1.8zM257.1 69.8h1.8v1.8h-1.8zM258.7 70.1h1.8v1.8h-1.8zM268.3 70.5h1.8v1.8h-1.8zM270.5 70.6h1.8v1.8h-1.8zM272.6 70.2h1.8v1.8h-1.8zM281.4 70.5h1.8v1.8h-1.8zM282.4 70.3h1.8v1.8h-1.8zM284.7 70.3h1.8v1.8h-1.8zM310.3 70.4h1.8v1.8h-1.8zM236.8 70.7h1.8v1.8h-1.8zM242.4 71.2h1.8v1.8h-1.8zM253.7 71.2h1.8v1.8h-1.8zM254.6 70.9h1.8v1.8h-1.8zM255.0 70.8h1.8v1.8h-1.8zM264.1 71.4h1.8v1.8h-1.8zM265.4 71.3h1.8v1.8h-1.8zM265.9 71.2h1.8v1.8h-1.8zM275.2 70.7h1.8v1.8h-1.8zM277.4 71.6h1.8v1.8h-1.8zM236.1 72.6h1.8v1.8h-1.8zM239.3 71.8h1.8v1.8h-1.8zM240.9 71.9h1.8v1.8h-1.8zM244.2 72.5h1.8v1.8h-1.8zM249.6 72.1h1.8v1.8h-1.8zM254.8 72.3h1.8v1.8h-1.8zM261.8 72.5h1.8v1.8h-1.8zM266.6 72.6h1.8v1.8h-1.8zM268.2 72.4h1.8v1.8h-1.8zM268.3 72.5h1.8v1.8h-1.8zM274.5 72.3h1.8v1.8h-1.8zM232.9 72.9h1.8v1.8h-1.8zM236.2 72.8h1.8v1.8h-1.8zM240.3 73.4h1.8v1.8h-1.8zM254.3 73.4h1.8v1.8h-1.8zM255.0 73.4h1.8v1.8h-1.8zM258.0 73.2h1.8v1.8h-1.8zM261.3 72.8h1.8v1.8h-1.8zM263.4 72.8h1.8v1.8h-1.8zM268.4 73.6h1.8v1.8h-1.8zM274.2 73.3h1.8v1.8h-1.8zM231.0 74.4h1.8v1.8h-1.8zM234.1 74.1h1.8v1.8h-1.8zM241.1 73.7h1.8v1.8h-1.8zM242.3 74.0h1.8v1.8h-1.8zM250.1 74.5h1.8v1.8h-1.8zM249.8 74.5h1.8v1.8h-1.8zM228.9 75.7h1.8v1.8h-1.8zM234.5 75.0h1.8v1.8h-1.8zM238.4 75.1h1.8v1.8h-1.8zM252.4 75.4h1.8v1.8h-1.8zM253.6 75.4h1.8v1.8h-1.8zM256.1 75.4h1.8v1.8h-1.8zM256.5 75.5h1.8v1.8h-1.8zM258.8 74.7h1.8v1.8h-1.8zM259.8 75.1h1.8v1.8h-1.8zM231.5 76.2h1.8v1.8h-1.8zM235.9 75.8h1.8v1.8h-1.8zM228.7 77.5h1.8v1.8h-1.8zM236.3 77.7h1.8v1.8h-1.8zM229.9 81.3h1.8v1.8h-1.8zM226.9 83.9h1.8v1.8h-1.8zM307.3 92.7h1.8v1.8h-1.8zM307.9 93.5h1.8v1.8h-1.8zM305.7 94.6h1.8v1.8h-1.8zM306.6 94.5h1.8v1.8h-1.8zM308.3 93.9h1.8v1.8h-1.8zM307.9 94.2h1.8v1.8h-1.8zM308.0 93.8h1.8v1.8h-1.8zM310.0 93.8h1.8v1.8h-1.8zM302.8 95.2h1.8v1.8h-1.8zM306.0 95.6h1.8v1.8h-1.8zM310.7 95.2h1.8v1.8h-1.8zM304.8 96.2h1.8v1.8h-1.8zM305.1 96.5h1.8v1.8h-1.8zM307.0 96.3h1.8v1.8h-1.8zM307.1 95.9h1.8v1.8h-1.8zM302.7 97.6h1.8v1.8h-1.8zM303.0 97.1h1.8v1.8h-1.8zM304.2 96.8h1.8v1.8h-1.8zM305.7 97.0h1.8v1.8h-1.8zM306.6 96.8h1.8v1.8h-1.8zM309.7 97.6h1.8v1.8h-1.8zM309.1 97.3h1.8v1.8h-1.8zM311.1 97.2h1.8v1.8h-1.8zM301.0 98.2h1.8v1.8h-1.8zM301.1 98.7h1.8v1.8h-1.8zM301.4 98.4h1.8v1.8h-1.8zM301.6 98.6h1.8v1.8h-1.8zM305.8 98.6h1.8v1.8h-1.8zM308.9 98.1h1.8v1.8h-1.8zM301.5 99.3h1.8v1.8h-1.8zM302.2 98.7h1.8v1.8h-1.8zM304.0 98.7h1.8v1.8h-1.8zM305.2 99.2h1.8v1.8h-1.8zM306.0 99.6h1.8v1.8h-1.8zM307.1 99.3h1.8v1.8h-1.8zM299.9 100.6h1.8v1.8h-1.8zM301.1 100.1h1.8v1.8h-1.8zM305.8 100.2h1.8v1.8h-1.8zM307.4 100.6h1.8v1.8h-1.8zM299.2 101.3h1.8v1.8h-1.8zM300.2 101.3h1.8v1.8h-1.8zM301.9 101.4h1.8v1.8h-1.8zM307.4 101.4h1.8v1.8h-1.8zM309.4 101.3h1.8v1.8h-1.8zM311.2 101.5h1.8v1.8h-1.8zM300.6 102.6h1.8v1.8h-1.8zM305.8 101.9h1.8v1.8h-1.8zM306.4 102.2h1.8v1.8h-1.8zM300.3 103.1h1.8v1.8h-1.8zM302.6 103.3h1.8v1.8h-1.8zM309.0 103.5h1.8v1.8h-1.8zM310.5 103.4h1.8v1.8h-1.8zM303.6 103.7h1.8v1.8h-1.8zM304.2 103.8h1.8v1.8h-1.8zM308.2 104.5h1.8v1.8h-1.8zM308.8 105.0h1.8v1.8h-1.8zM298.8 106.1h1.8v1.8h-1.8zM308.9 106.0h1.8v1.8h-1.8zM309.4 106.0h1.8v1.8h-1.8zM310.8 106.4h1.8v1.8h-1.8zM301.7 107.1h1.8v1.8h-1.8zM302.1 106.7h1.8v1.8h-1.8zM301.9 107.0h1.8v1.8h-1.8zM303.3 106.7h1.8v1.8h-1.8zM305.3 107.2h1.8v1.8h-1.8zM307.6 107.8h1.8v1.8h-1.8zM309.3 108.2h1.8v1.8h-1.8zM299.3 109.3h1.8v1.8h-1.8zM301.2 109.6h1.8v1.8h-1.8zM301.8 108.8h1.8v1.8h-1.8zM304.4 109.5h1.8v1.8h-1.8zM306.2 109.3h1.8v1.8h-1.8zM308.6 109.3h1.8v1.8h-1.8zM309.0 109.6h1.8v1.8h-1.8zM309.9 108.8h1.8v1.8h-1.8zM310.9 109.0h1.8v1.8h-1.8zM299.6 110.4h1.8v1.8h-1.8zM304.3 110.6h1.8v1.8h-1.8zM305.3 110.4h1.8v1.8h-1.8zM310.2 110.4h1.8v1.8h-1.8zM304.1 110.7h1.8v1.8h-1.8zM307.1 111.3h1.8v1.8h-1.8zM309.9 111.5h1.8v1.8h-1.8zM310.3 110.7h1.8v1.8h-1.8zM299.4 112.4h1.8v1.8h-1.8zM300.5 111.7h1.8v1.8h-1.8zM302.4 112.2h1.8v1.8h-1.8zM307.4 111.9h1.8v1.8h-1.8zM297.3 112.9h1.8v1.8h-1.8zM301.0 112.8h1.8v1.8h-1.8zM305.1 113.4h1.8v1.8h-1.8zM304.9 112.9h1.8v1.8h-1.8zM296.2 113.9h1.8v1.8h-1.8zM296.7 114.2h1.8v1.8h-1.8zM300.8 114.1h1.8v1.8h-1.8zM297.0 114.8h1.8v1.8h-1.8zM287.6 116.7h1.8v1.8h-1.8zM287.1 116.2h1.8v1.8h-1.8zM284.5 116.9h1.8v1.8h-1.8zM279.1 118.5h1.8v1.8h-1.8zM280.8 117.8h1.8v1.8h-1.8zM286.2 118.1h1.8v1.8h-1.8zM276.7 119.4h1.8v1.8h-1.8zM277.4 119.5h1.8v1.8h-1.8zM280.8 119.1h1.8v1.8h-1.8zM283.2 119.1h1.8v1.8h-1.8zM272.0 120.3h1.8v1.8h-1.8zM273.1 120.0h1.8v1.8h-1.8zM279.2 119.7h1.8v1.8h-1.8zM275.9 120.9h1.8v1.8h-1.8zM268.9 122.3h1.8v1.8h-1.8zM264.4 123.4h1.8v1.8h-1.8zM265.3 123.6h1.8v1.8h-1.8zM268.8 123.0h1.8v1.8h-1.8zM259.0 124.3h1.8v1.8h-1.8zM247.6 127.6h1.8v1.8h-1.8zM245.2 127.9h1.8v1.8h-1.8zM259.0 127.9h1.8v1.8h-1.8zM245.9 129.1h1.8v1.8h-1.8zM301.3 129.5h1.8v1.8h-1.8zM244.0 130.3h1.8v1.8h-1.8z" fill="#000"/>
<path d="M304.0 69.2h1.5v1.5h-1.5zM297.1 69.8h1.5v1.5h-1.5zM299.9 70.2h1.5v1.5h-1.5zM283.3 71.6h1.5v1.5h-1.5zM302.2 71.4h1.5v1.5h-1.5zM305.9 71.0h1.5v1.5h-1.5zM272.4 72.3h1.5v1.5h-1.5zM272.7 73.5h1.5v1.5h-1.5zM300.9 73.7h1.5v1.5h-1.5zM248.6 74.6h1.5v1.5h-1.5zM275.5 74.4h1.5v1.5h-1.5zM261.6 74.7h1.5v1.5h-1.5zM267.6 74.8h1.5v1.5h-1.5zM242.0 76.5h1.5v1.5h-1.5zM248.3 76.6h1.5v1.5h-1.5zM254.9 76.2h1.5v1.5h-1.5zM269.5 76.5h1.5v1.5h-1.5zM287.5 76.4h1.5v1.5h-1.5zM307.3 75.9h1.5v1.5h-1.5zM289.1 77.2h1.5v1.5h-1.5zM264.8 77.8h1.5v1.5h-1.5zM270.4 79.7h1.5v1.5h-1.5zM283.7 79.9h1.5v1.5h-1.5zM303.7 80.3h1.5v1.5h-1.5zM250.2 81.8h1.5v1.5h-1.5zM233.6 83.4h1.5v1.5h-1.5zM287.3 85.1h1.5v1.5h-1.5zM263.7 85.7h1.5v1.5h-1.5zM306.5 86.4h1.5v1.5h-1.5zM262.8 87.3h1.5v1.5h-1.5zM303.7 87.0h1.5v1.5h-1.5zM262.6 88.2h1.5v1.5h-1.5zM263.3 88.1h1.5v1.5h-1.5zM283.3 91.6h1.5v1.5h-1.5zM257.7 92.0h1.5v1.5h-1.5zM296.3 93.0h1.5v1.5h-1.5zM279.8 94.2h1.5v1.5h-1.5zM262.8 95.3h1.5v1.5h-1.5zM284.7 95.0h1.5v1.5h-1.5zM294.9 95.6h1.5v1.5h-1.5zM288.0 96.4h1.5v1.5h-1.5zM230.3 96.8h1.5v1.5h-1.5zM256.3 99.8h1.5v1.5h-1.5zM241.1 101.7h1.5v1.5h-1.5zM237.0 104.0h1.5v1.5h-1.5zM284.6 104.2h1.5v1.5h-1.5zM246.0 104.7h1.5v1.5h-1.5zM247.2 105.4h1.5v1.5h-1.5zM260.5 105.1h1.5v1.5h-1.5zM243.5 105.9h1.5v1.5h-1.5zM298.1 110.1h1.5v1.5h-1.5zM227.1 113.8h1.5v1.5h-1.5zM284.8 113.8h1.5v1.5h-1.5zM258.2 115.9h1.5v1.5h-1.5zM238.3 120.2h1.5v1.5h-1.5zM231.0 121.9h1.5v1.5h-1.5zM250.6 125.2h1.5v1.5h-1.5zM227.6 127.2h1.5v1.5h-1.5z" fill="#fff"/>
<polygon points="70.6,130.8 81.7,81.5 121.9,56.7 136.6,54 141,80.4 141.3,110.8" fill="none" stroke="#000" stroke-width="1.8" stroke-linejoin="round"/>
<polygon points="242.9,131.2 262,76 272.7,72.8 295.8,57.5 308.3,54 310.4,67.5 312,111.3" fill="none" stroke="#000" stroke-width="1.8" stroke-linejoin="round"/>
<path d="M32 130.7H39M34.7 127.41H39M34.7 124.12H39M34.7 120.82H39M34.7 117.53H39M32 114.24H39M34.7 110.95H39M34.7 107.66H39M34.7 104.36H39M34.7 101.07H39M32 97.78H39M34.7 94.49H39M34.7 91.2H39M34.7 87.9H39M34.7 84.61H39M32 81.32H39M34.7 78.03H39M34.7 74.74H39M34.7 71.44H39M34.7 68.15H39M32 64.86H39M34.7 61.57H39M34.7 58.28H39M34.7 54.98H39M34.7 51.69H39M32 48.4H39M40.2 131.3V138.3M44.16 131.3V134.9M48.11 131.3V134.9M52.07 131.3V134.9M56.02 131.3V134.9M59.98 131.3V138.3M63.94 131.3V134.9M67.89 131.3V134.9M71.85 131.3V134.9M75.8 131.3V134.9M79.76 131.3V138.3M83.72 131.3V134.9M87.67 131.3V134.9M91.63 131.3V134.9M95.58 131.3V134.9M99.54 131.3V138.3M103.5 131.3V134.9M107.45 131.3V134.9M111.41 131.3V134.9M115.36 131.3V134.9M119.32 131.3V138.3M123.28 131.3V134.9M127.23 131.3V134.9M131.19 131.3V134.9M135.14 131.3V134.9M139.1 131.3V138.3" stroke="#000" stroke-width="1.35" fill="none"/>
<rect x="39" y="46.5" width="103.5" height="84.8" fill="none" stroke="#000" stroke-width="1.7"/>
<text transform="translate(28.4 46.2) scale(1.08 1) rotate(-90)" font-size="11.5" font-weight="normal" text-anchor="middle">250</text>
<text transform="translate(28.4 128) scale(1.08 1) rotate(-90)" font-size="11.5" font-weight="normal" text-anchor="middle">0</text>
<text transform="translate(13.6 88.6) scale(1.05 1) rotate(-90)" font-size="12" font-weight="normal" text-anchor="middle">SSC-H</text>
<text transform="translate(41.7 149.9) scale(1.08 1)" font-size="12" font-weight="normal" text-anchor="middle" >0</text>
<text transform="translate(140.2 149.9) scale(1.08 1)" font-size="12" font-weight="normal" text-anchor="middle" >250</text>
<text transform="translate(88.9 166.5) scale(1.03 1)" font-size="12" font-weight="normal" text-anchor="middle" >FSC-H</text>
<text x="107.6" y="106.4" font-size="9.5" font-weight="normal" fill="#000">R1</text>
<path d="M202.8 131.2H209.8M205.5 127.91H209.8M205.5 124.62H209.8M205.5 121.32H209.8M205.5 118.03H209.8M202.8 114.74H209.8M205.5 111.45H209.8M205.5 108.16H209.8M205.5 104.86H209.8M205.5 101.57H209.8M202.8 98.28H209.8M205.5 94.99H209.8M205.5 91.7H209.8M205.5 88.4H209.8M205.5 85.11H209.8M202.8 81.82H209.8M205.5 78.53H209.8M205.5 75.24H209.8M205.5 71.94H209.8M205.5 68.65H209.8M202.8 65.36H209.8M205.5 62.07H209.8M205.5 58.78H209.8M205.5 55.48H209.8M205.5 52.19H209.8M202.8 48.9H209.8M211 131.8V138.8M214.94 131.8V135.4M218.89 131.8V135.4M222.83 131.8V135.4M226.78 131.8V135.4M230.72 131.8V138.8M234.66 131.8V135.4M238.61 131.8V135.4M242.55 131.8V135.4M246.5 131.8V135.4M250.44 131.8V138.8M254.38 131.8V135.4M258.33 131.8V135.4M262.27 131.8V135.4M266.22 131.8V135.4M270.16 131.8V138.8M274.1 131.8V135.4M278.05 131.8V135.4M281.99 131.8V135.4M285.94 131.8V135.4M289.88 131.8V138.8M293.82 131.8V135.4M297.77 131.8V135.4M301.71 131.8V135.4M305.66 131.8V135.4M309.6 131.8V138.8" stroke="#000" stroke-width="1.35" fill="none"/>
<rect x="209.8" y="47" width="103.2" height="84.8" fill="none" stroke="#000" stroke-width="1.7"/>
<text transform="translate(200.2 46.7) scale(1.08 1) rotate(-90)" font-size="11.5" font-weight="normal" text-anchor="middle">250</text>
<text transform="translate(200.2 128.5) scale(1.08 1) rotate(-90)" font-size="11.5" font-weight="normal" text-anchor="middle">0</text>
<text transform="translate(186 89.1) scale(1.05 1) rotate(-90)" font-size="12" font-weight="normal" text-anchor="middle">SSC-H</text>
<text transform="translate(212.5 150.4) scale(1.08 1)" font-size="12" font-weight="normal" text-anchor="middle" >0</text>
<text transform="translate(310.7 150.4) scale(1.08 1)" font-size="12" font-weight="normal" text-anchor="middle" >250</text>
<text transform="translate(259.7 167) scale(1.03 1)" font-size="12" font-weight="normal" text-anchor="middle" >FSC-H</text>
<path d="M32.9 279.7H39.9M35.6 276.36H39.9M35.6 273.02H39.9M35.6 269.68H39.9M35.6 266.34H39.9M32.9 263H39.9M35.6 259.66H39.9M35.6 256.32H39.9M35.6 252.98H39.9M35.6 249.64H39.9M32.9 246.3H39.9M35.6 242.96H39.9M35.6 239.62H39.9M35.6 236.28H39.9M35.6 232.94H39.9M32.9 229.6H39.9M35.6 226.26H39.9M35.6 222.92H39.9M35.6 219.58H39.9M35.6 216.24H39.9M32.9 212.9H39.9M35.6 209.56H39.9M35.6 206.22H39.9M35.6 202.88H39.9M35.6 199.54H39.9M32.9 196.2H39.9M39.9 280.3V285.9M47.6 280.3V283.5M52.1 280.3V283.5M55.3 280.3V283.5M57.78 280.3V283.5M59.8 280.3V283.5M61.51 280.3V283.5M63 280.3V283.5M64.3 280.3V283.5M65.47 280.3V285.9M73.17 280.3V283.5M77.68 280.3V283.5M80.87 280.3V283.5M83.35 280.3V283.5M85.38 280.3V283.5M87.09 280.3V283.5M88.57 280.3V283.5M89.88 280.3V283.5M91.05 280.3V285.9M98.75 280.3V283.5M103.25 280.3V283.5M106.45 280.3V283.5M108.93 280.3V283.5M110.95 280.3V283.5M112.66 280.3V283.5M114.15 280.3V283.5M115.45 280.3V283.5M116.62 280.3V285.9M124.32 280.3V283.5M128.83 280.3V283.5M132.02 280.3V283.5M134.5 280.3V283.5M136.53 280.3V283.5M138.24 280.3V283.5M139.72 280.3V283.5M141.03 280.3V283.5M142.2 280.3V285.9" stroke="#000" stroke-width="1.35" fill="none"/>
<rect x="39.9" y="195" width="102.3" height="85.3" fill="none" stroke="#000" stroke-width="1.8"/>
<polyline points="40.2,242.88 41.29,240.77 41.52,239.33 41.76,237.63 41.99,235.79 42.23,234.04 42.46,232.55 42.7,230.84 42.93,229.42 43.17,227.49 43.4,225.96 43.64,224.3 43.87,222.72 44.11,221.27 44.34,219.38 44.58,217.6 44.81,216.24 45.05,214.52 45.28,212.65 45.52,211.15 45.94,209.71 46.37,208.06 46.79,206.26 47.21,204.63 47.63,202.69 48.69,200.58 49.43,202.58 50.17,204.81 50.38,206.53 50.6,208.22 50.81,209.68 51.02,211.14 51.23,212.5 51.44,214.29 51.65,215.98 51.87,217.5 52.1,219.39 52.34,221.07 52.57,222.42 52.81,224.3 53.04,225.58 53.28,227.55 53.51,229.05 53.75,230.37 53.98,232.31 54.17,234.06 54.35,235.48 54.54,237.36 54.73,238.88 54.91,240.1 55.1,242.01 55.29,243.85 55.47,245.1 55.66,246.76 55.85,248.71 56.03,249.92 56.22,251.76 56.41,253.18 56.59,255.24 56.78,256.75 56.97,258.16 57.15,259.81 57.46,261.22 57.76,263.02 58.06,264.8 58.36,266.72 58.66,267.88 58.97,269.81 59.27,271.44 59.8,273.15 60.33,274.62 61.38,276.31 63.5,276.48 65.62,276.78 67.73,276.73 69.85,276.61 71.96,276.73 74.08,276.31 76.19,276.05 78.31,275.67 80.42,276.04 82.54,276.31 84.65,275.85 86.77,275.46 88.88,275.94 91,276.31 93.12,275.92 95.23,275.67 97.35,276.25 99.46,276.73 101.58,277.58 103.69,278.42" fill="none" stroke="#000" stroke-width="1.3" stroke-linejoin="round"/>
<polyline points="40.2,276.73 42.33,275.95 44.46,275.67 46.58,274.77 48.69,274.62 50.81,274.45 52.92,275.04 55.04,274.75 57.15,274.19 58.74,273.01 60.33,271.44 60.96,269.93 61.6,267.99 62.23,267.31 62.87,265.97 63.5,264.04 64.56,263.14 65.62,261.63 66.67,259.81 67.47,258.7 68.26,257.14 69.05,255.1 69.85,253.46 70.38,251.57 70.9,250.18 71.43,247.9 71.96,246.78 72.49,245.07 73.02,242.88 73.55,241.6 74.08,239.47 74.61,238.14 75.13,235.93 75.66,234.01 76.19,232.31 76.74,230.81 77.29,229.52 77.84,227.73 78.39,225.89 78.94,223.85 79.58,221.76 80.21,220.81 80.85,219.07 81.48,217.5 82.86,215.75 84.23,213.69 85.5,216.01 86.77,217.5 87.19,218.88 87.62,221.16 88.04,222.12 88.46,223.93 88.88,225.96 89.22,228.01 89.56,229.15 89.9,231.42 90.24,232.25 90.58,234.42 90.82,235.76 91.07,238.19 91.32,239.17 91.56,241.56 91.81,243.73 92.06,245 92.3,246.8 92.55,248.74 92.8,249.72 93.04,252.21 93.29,253.94 93.54,255.58 93.88,257.25 94.23,258.62 94.57,260.18 94.91,262.5 95.26,262.95 95.6,264.52 95.94,267.24 96.29,268.27 96.92,269.37 97.56,270.78 98.19,272.36 98.83,274.55 99.46,275.67 101.58,276.94 103.69,277.15 105.38,276.58 107.08,277.06 108.77,276.68 110.46,276.87 112.15,276.82 113.85,277.33 115.54,276.97 117.23,276.77 118.92,277.16 120.62,277.15 122.73,276.46 124.85,276.39 126.96,276.73 129.08,277.58 130.68,277.52 132.28,277.47 133.89,277.42 135.49,277.37 137.09,277.31 138.69,277.85 140.3,276.85 141.9,277.15" fill="none" stroke="#000" stroke-width="3.1" stroke-linejoin="round"/>
<text transform="translate(26.6 193.5) scale(1.08 1) rotate(-90)" font-size="11" font-weight="normal" text-anchor="middle">200</text>
<text transform="translate(26.6 278) scale(1.08 1) rotate(-90)" font-size="11" font-weight="normal" text-anchor="middle">0</text>
<text transform="translate(14.3 238.3) scale(1.08 1) rotate(-90)" font-size="12.5" font-weight="normal" text-anchor="middle">Counts</text>
<text transform="translate(29.6 301.5) scale(1.1 1)" font-size="11" font-weight="normal" text-anchor="start" >10</text>
<text transform="translate(43.8 295.6) scale(1.1 1)" font-size="10.5" font-weight="normal" text-anchor="start" >0</text>
<text transform="translate(55.17 301.5) scale(1.1 1)" font-size="11" font-weight="normal" text-anchor="start" >10</text>
<text transform="translate(69.38 295.6) scale(1.1 1)" font-size="10.5" font-weight="normal" text-anchor="start" >1</text>
<text transform="translate(80.75 301.5) scale(1.1 1)" font-size="11" font-weight="normal" text-anchor="start" >10</text>
<text transform="translate(94.95 295.6) scale(1.1 1)" font-size="10.5" font-weight="normal" text-anchor="start" >2</text>
<text transform="translate(106.33 301.5) scale(1.1 1)" font-size="11" font-weight="normal" text-anchor="start" >10</text>
<text transform="translate(120.53 295.6) scale(1.1 1)" font-size="10.5" font-weight="normal" text-anchor="start" >3</text>
<text transform="translate(131.9 301.5) scale(1.1 1)" font-size="11" font-weight="normal" text-anchor="start" >10</text>
<text transform="translate(146.1 295.6) scale(1.1 1)" font-size="10.5" font-weight="normal" text-anchor="start" >4</text>
<text transform="translate(89.15 314.2) scale(1.08 1)" font-size="11" font-weight="normal" text-anchor="middle" >FL2-H</text>
<text transform="translate(102.7 216.5) scale(1.01 1)" font-size="13" font-weight="bold" text-anchor="start" xml:space="preserve">9 1 %</text>
<path d="M203.95 280.2H210.95M206.65 276.86H210.95M206.65 273.52H210.95M206.65 270.18H210.95M206.65 266.84H210.95M203.95 263.5H210.95M206.65 260.16H210.95M206.65 256.82H210.95M206.65 253.48H210.95M206.65 250.14H210.95M203.95 246.8H210.95M206.65 243.46H210.95M206.65 240.12H210.95M206.65 236.78H210.95M206.65 233.44H210.95M203.95 230.1H210.95M206.65 226.76H210.95M206.65 223.42H210.95M206.65 220.08H210.95M206.65 216.74H210.95M203.95 213.4H210.95M206.65 210.06H210.95M206.65 206.72H210.95M206.65 203.38H210.95M206.65 200.04H210.95M203.95 196.7H210.95M210.95 280.8V286.4M218.61 280.8V284M223.09 280.8V284M226.26 280.8V284M228.73 280.8V284M230.74 280.8V284M232.45 280.8V284M233.92 280.8V284M235.22 280.8V284M236.39 280.8V286.4M244.04 280.8V284M248.52 280.8V284M251.7 280.8V284M254.17 280.8V284M256.18 280.8V284M257.88 280.8V284M259.36 280.8V284M260.66 280.8V284M261.82 280.8V286.4M269.48 280.8V284M273.96 280.8V284M277.14 280.8V284M279.61 280.8V284M281.62 280.8V284M283.32 280.8V284M284.8 280.8V284M286.1 280.8V284M287.26 280.8V286.4M294.92 280.8V284M299.4 280.8V284M302.58 280.8V284M305.04 280.8V284M307.06 280.8V284M308.76 280.8V284M310.23 280.8V284M311.54 280.8V284M312.7 280.8V286.4" stroke="#000" stroke-width="1.35" fill="none"/>
<rect x="210.95" y="195.5" width="101.75" height="85.3" fill="none" stroke="#000" stroke-width="1.8"/>
<polyline points="211.25,262.98 213.36,263.29 215.46,264.04 215.99,262.66 216.52,261.02 217.05,259.13 217.58,257.69 218.11,255.57 218.63,253.46 218.87,251.79 219.1,250.26 219.34,248.7 219.57,246.64 219.81,244.95 220.04,243.79 220.28,241.9 220.51,240.46 220.75,238.65 221.01,236.64 221.28,235.18 221.54,233.63 221.81,231.62 222.07,230.33 222.34,228.58 222.6,226.34 222.87,224.9 223.57,222.86 224.28,221.4 224.98,219.62 225.28,218.19 225.57,216.16 225.87,214.37 226.17,212.8 226.46,211.15 227.03,209.11 227.59,207.46 228.15,205.87 228.86,207.59 229.56,209.39 230.27,211.15 230.5,212.64 230.74,214.28 230.97,215.92 231.21,217.71 231.44,219.25 231.68,220.74 231.91,222.87 232.15,224.35 232.38,225.96 232.65,227.63 232.91,228.95 233.18,231.02 233.44,232.52 233.71,233.67 233.97,235.38 234.24,237.2 234.5,238.65 234.74,240.43 234.97,242.21 235.21,243.54 235.44,245.43 235.68,246.98 235.91,248.41 236.15,250.22 236.38,252.05 236.62,253.46 236.85,255.31 237.09,256.76 237.32,258.45 237.56,259.76 237.79,261.53 238.03,263.51 238.26,264.93 238.5,266.43 238.73,268.27 239.15,269.91 239.58,271.61 240,273.2 240.42,274.62 240.85,276.31 242.96,277.79 245.08,277.86 247.19,277.93 249.31,278 251,277.92 252.69,277.83 254.38,277.71 256.08,277.67 257.77,277.58 259.88,277.96 262,278 264.12,278 266.23,278 268.35,278 270.46,278.85" fill="none" stroke="#000" stroke-width="1.3" stroke-linejoin="round"/>
<polyline points="211.25,272.92 213.01,273.16 214.76,273.22 216.52,273.56 217.15,272.06 217.79,270.03 218.42,268.57 219.06,267.88 219.69,266.15 220.3,265.22 220.9,263.24 221.51,261.49 222.11,259.71 222.71,258.6 223.32,257.67 223.92,255.58 224.53,254.39 225.13,252.6 225.74,251.48 226.34,249.21 226.95,248.04 227.55,247.05 228.15,245 229.21,243.54 230.27,241.85 231.33,240.35 233.44,240.28 235.56,240.77 236.62,242.1 237.67,243.86 238.73,244.58 240.14,245.54 241.55,248.02 242.96,249.23 244.55,250.67 246.13,251.35 247.72,252.34 249.31,252.4 250.37,254.46 251.42,256.3 252.48,257.69 253.54,259.48 254.6,261.29 255.65,262.98 256.71,264.48 257.77,265.62 258.83,268.18 259.88,269.33 261.29,270.82 262.71,271.79 264.12,273.56 265.53,274.62 266.94,275.65 268.35,276.73 270.46,277.41 272.58,278.42 274.34,278.46 276.1,278.49 277.87,278.53 279.63,278.56 281.39,278.6 283.15,278.63 284.97,278.66 286.78,278.7 288.59,278.73 290.41,278.76 292.22,278.79 294.03,278.82 295.85,278.85 297.5,278.85 299.16,278.85 300.81,278.85 302.47,278.85 304.12,278.85 305.78,278.85 307.43,278.85 309.09,278.85 310.74,278.85 312.4,278.85" fill="none" stroke="#000" stroke-width="3.1" stroke-linejoin="round"/>
<text transform="translate(198.65 194) scale(1.08 1) rotate(-90)" font-size="11" font-weight="normal" text-anchor="middle">200</text>
<text transform="translate(198.65 278.5) scale(1.08 1) rotate(-90)" font-size="11" font-weight="normal" text-anchor="middle">0</text>
<text transform="translate(185.35 238.8) scale(1.08 1) rotate(-90)" font-size="12.5" font-weight="normal" text-anchor="middle">Counts</text>
<text transform="translate(200.65 302) scale(1.1 1)" font-size="11" font-weight="normal" text-anchor="start" >10</text>
<text transform="translate(214.85 296.1) scale(1.1 1)" font-size="10.5" font-weight="normal" text-anchor="start" >0</text>
<text transform="translate(226.09 302) scale(1.1 1)" font-size="11" font-weight="normal" text-anchor="start" >10</text>
<text transform="translate(240.29 296.1) scale(1.1 1)" font-size="10.5" font-weight="normal" text-anchor="start" >1</text>
<text transform="translate(251.52 302) scale(1.1 1)" font-size="11" font-weight="normal" text-anchor="start" >10</text>
<text transform="translate(265.72 296.1) scale(1.1 1)" font-size="10.5" font-weight="normal" text-anchor="start" >2</text>
<text transform="translate(276.96 302) scale(1.1 1)" font-size="11" font-weight="normal" text-anchor="start" >10</text>
<text transform="translate(291.16 296.1) scale(1.1 1)" font-size="10.5" font-weight="normal" text-anchor="start" >3</text>
<text transform="translate(302.4 302) scale(1.1 1)" font-size="11" font-weight="normal" text-anchor="start" >10</text>
<text transform="translate(316.6 296.1) scale(1.1 1)" font-size="10.5" font-weight="normal" text-anchor="start" >4</text>
<text transform="translate(259.93 314.7) scale(1.08 1)" font-size="11" font-weight="normal" text-anchor="middle" >FL1-H</text>
<text transform="translate(273.7 216.4) scale(1.01 1)" font-size="13" font-weight="bold" text-anchor="start" xml:space="preserve">3 6 %</text>
<path d="M32.55 427.1H39.55M35.25 423.76H39.55M35.25 420.42H39.55M35.25 417.08H39.55M35.25 413.74H39.55M32.55 410.4H39.55M35.25 407.06H39.55M35.25 403.72H39.55M35.25 400.38H39.55M35.25 397.04H39.55M32.55 393.7H39.55M35.25 390.36H39.55M35.25 387.02H39.55M35.25 383.68H39.55M35.25 380.34H39.55M32.55 377H39.55M35.25 373.66H39.55M35.25 370.32H39.55M35.25 366.98H39.55M35.25 363.64H39.55M32.55 360.3H39.55M35.25 356.96H39.55M35.25 353.62H39.55M35.25 350.28H39.55M35.25 346.94H39.55M32.55 343.6H39.55M39.55 427.7V433.3M47.26 427.7V430.9M51.77 427.7V430.9M54.97 427.7V430.9M57.45 427.7V430.9M59.48 427.7V430.9M61.2 427.7V430.9M62.68 427.7V430.9M63.99 427.7V430.9M65.16 427.7V433.3M72.87 427.7V430.9M77.38 427.7V430.9M80.58 427.7V430.9M83.06 427.7V430.9M85.09 427.7V430.9M86.81 427.7V430.9M88.29 427.7V430.9M89.6 427.7V430.9M90.78 427.7V433.3M98.49 427.7V430.9M103 427.7V430.9M106.2 427.7V430.9M108.68 427.7V430.9M110.71 427.7V430.9M112.42 427.7V430.9M113.91 427.7V430.9M115.22 427.7V430.9M116.39 427.7V433.3M124.1 427.7V430.9M128.61 427.7V430.9M131.81 427.7V430.9M134.29 427.7V430.9M136.32 427.7V430.9M138.03 427.7V430.9M139.52 427.7V430.9M140.83 427.7V430.9M142 427.7V433.3" stroke="#000" stroke-width="1.35" fill="none"/>
<rect x="39.55" y="342.4" width="102.45" height="85.3" fill="none" stroke="#000" stroke-width="1.8"/>
<polyline points="39.85,389.83 41.29,387.71 41.55,386.04 41.82,384.23 42.08,382.6 42.35,380.66 42.61,379.31 42.88,377.59 43.14,375.77 43.4,373.96 43.64,372.11 43.87,370.68 44.11,368.92 44.34,367.23 44.58,366.01 44.81,364.39 45.05,362.17 45.28,361.02 45.52,359.15 46.05,357.36 46.58,355.38 47.11,353.47 47.63,351.75 48.16,350.27 48.69,348.58 49.22,350.14 49.75,351.86 50.28,353.43 50.81,354.92 51.04,356.35 51.28,358.37 51.51,360.15 51.75,361.79 51.98,363.22 52.22,364.52 52.45,366.14 52.69,367.87 52.92,369.73 53.13,371.69 53.35,373 53.56,374.73 53.77,376.74 53.98,378.08 54.19,379.91 54.4,381.54 54.62,383.01 54.83,385.01 55.04,386.65 55.27,388.51 55.51,389.74 55.74,391.42 55.98,393.18 56.21,394.6 56.45,396.52 56.68,398.36 56.92,399.91 57.15,401.46 57.39,403.13 57.62,404.97 57.86,406.19 58.09,408.08 58.33,409.61 58.56,411.39 58.8,412.75 59.03,414.79 59.27,416.27 59.8,417.61 60.33,419.24 60.86,421.21 61.38,422.62 63.5,424.31 65.62,424.36 67.73,423.84 69.85,423.67 71.96,424.15 74.08,424.73 76.19,423.94 78.31,423.46 80.42,423.75 82.54,424.31 84.65,423.74 86.77,423.04 88.88,423.48 91,424.31 93.12,423.66 95.23,423.46 96.64,424.21 98.05,425.01 99.46,425.79" fill="none" stroke="#000" stroke-width="1.3" stroke-linejoin="round"/>
<polyline points="39.85,424.73 41.62,423.91 43.39,424.06 45.16,423.85 46.92,423.37 48.69,422.62 50.28,421.53 51.87,420.32 53.45,419.36 55.04,418.38 55.46,416.1 55.88,415.26 56.31,413.11 56.73,411.4 57.15,409.92 57.58,407.73 58,406.48 58.42,404.95 58.85,403.02 59.27,401.46 59.8,400.05 60.33,397.97 60.86,395.6 61.38,394.06 62.44,392.68 63.5,391.73 64.56,389.83 67.73,389.83 69.85,388.77 71.96,386.65 74.08,385.6 75.13,387.21 76.19,388.77 78.31,388.77 80.42,387.71 82.54,389.19 83.38,390.69 84.23,391.94 84.97,393 85.71,395.12 86.24,396.69 86.77,398.24 87.3,399.76 87.83,401.46 88.25,403.06 88.67,404.95 89.1,406.58 89.52,408.22 89.94,409.92 91,411.64 92.06,414.15 93.12,415.49 94.17,417.54 95.23,418.38 96.64,419.13 98.05,419.52 99.46,420.92 101.05,420.75 102.63,421.81 104.22,421.65 105.81,422.62 107.39,422.39 108.98,422.67 110.57,423.35 112.15,423.67 113.85,424.48 115.54,424.08 117.23,424.26 118.92,424.44 120.62,424.73 122.31,424.65 124,424.5 125.69,424.75 127.38,424.87 129.08,424.31 130.88,424.67 132.68,424.46 134.49,424.85 136.29,424.79 138.09,424.91 139.9,425.03 141.7,425.15" fill="none" stroke="#000" stroke-width="3.1" stroke-linejoin="round"/>
<text transform="translate(26.25 340.9) scale(1.08 1) rotate(-90)" font-size="11" font-weight="normal" text-anchor="middle">200</text>
<text transform="translate(26.25 425.4) scale(1.08 1) rotate(-90)" font-size="11" font-weight="normal" text-anchor="middle">0</text>
<text transform="translate(13.95 385.7) scale(1.08 1) rotate(-90)" font-size="12.5" font-weight="normal" text-anchor="middle">Counts</text>
<text transform="translate(29.25 448.9) scale(1.1 1)" font-size="11" font-weight="normal" text-anchor="start" >10</text>
<text transform="translate(43.45 443) scale(1.1 1)" font-size="10.5" font-weight="normal" text-anchor="start" >0</text>
<text transform="translate(54.86 448.9) scale(1.1 1)" font-size="11" font-weight="normal" text-anchor="start" >10</text>
<text transform="translate(69.06 443) scale(1.1 1)" font-size="10.5" font-weight="normal" text-anchor="start" >1</text>
<text transform="translate(80.48 448.9) scale(1.1 1)" font-size="11" font-weight="normal" text-anchor="start" >10</text>
<text transform="translate(94.68 443) scale(1.1 1)" font-size="10.5" font-weight="normal" text-anchor="start" >2</text>
<text transform="translate(106.09 448.9) scale(1.1 1)" font-size="11" font-weight="normal" text-anchor="start" >10</text>
<text transform="translate(120.29 443) scale(1.1 1)" font-size="10.5" font-weight="normal" text-anchor="start" >3</text>
<text transform="translate(131.7 448.9) scale(1.1 1)" font-size="11" font-weight="normal" text-anchor="start" >10</text>
<text transform="translate(145.9 443) scale(1.1 1)" font-size="10.5" font-weight="normal" text-anchor="start" >4</text>
<text transform="translate(88.88 461.6) scale(1.08 1)" font-size="11" font-weight="normal" text-anchor="middle" >FL2-H</text>
<text transform="translate(101 363) scale(1.01 1)" font-size="13" font-weight="bold" text-anchor="start" xml:space="preserve">9 0 %</text>
<path d="M203.75 427.7H210.75M206.45 424.36H210.75M206.45 421.02H210.75M206.45 417.68H210.75M206.45 414.34H210.75M203.75 411H210.75M206.45 407.66H210.75M206.45 404.32H210.75M206.45 400.98H210.75M206.45 397.64H210.75M203.75 394.3H210.75M206.45 390.96H210.75M206.45 387.62H210.75M206.45 384.28H210.75M206.45 380.94H210.75M203.75 377.6H210.75M206.45 374.26H210.75M206.45 370.92H210.75M206.45 367.58H210.75M206.45 364.24H210.75M203.75 360.9H210.75M206.45 357.56H210.75M206.45 354.22H210.75M206.45 350.88H210.75M206.45 347.54H210.75M203.75 344.2H210.75M210.75 428.3V433.9M218.45 428.3V431.5M222.95 428.3V431.5M226.14 428.3V431.5M228.62 428.3V431.5M230.64 428.3V431.5M232.35 428.3V431.5M233.84 428.3V431.5M235.14 428.3V431.5M236.31 428.3V433.9M244.01 428.3V431.5M248.51 428.3V431.5M251.7 428.3V431.5M254.18 428.3V431.5M256.2 428.3V431.5M257.92 428.3V431.5M259.4 428.3V431.5M260.71 428.3V431.5M261.88 428.3V433.9M269.57 428.3V431.5M274.07 428.3V431.5M277.27 428.3V431.5M279.74 428.3V431.5M281.77 428.3V431.5M283.48 428.3V431.5M284.96 428.3V431.5M286.27 428.3V431.5M287.44 428.3V433.9M295.13 428.3V431.5M299.63 428.3V431.5M302.83 428.3V431.5M305.3 428.3V431.5M307.33 428.3V431.5M309.04 428.3V431.5M310.52 428.3V431.5M311.83 428.3V431.5M313 428.3V433.9" stroke="#000" stroke-width="1.35" fill="none"/>
<rect x="210.75" y="343" width="102.25" height="85.3" fill="none" stroke="#000" stroke-width="1.8"/>
<polyline points="211.05,401.46 212.42,400.38 213.78,399.38 215.15,398.54 216.52,397.23 216.92,395.62 217.31,394.06 217.71,392.52 218.11,390.7 218.5,389.31 218.9,387.79 219.3,386.3 219.69,384.54 220.04,382.65 220.4,381.13 220.75,379.36 221.1,378.14 221.46,376.43 221.81,374.39 222.16,373.31 222.51,371.65 222.87,369.73 223.66,368.24 224.45,366.63 225.25,364.77 226.04,363.38 227.1,365.21 228.15,367.62 228.58,369.32 229,370.74 229.42,372.51 229.85,374.23 230.27,376.08 230.5,377.44 230.74,379.35 230.97,380.98 231.21,382.86 231.44,384.31 231.68,386.03 231.91,387.59 232.15,389.34 232.38,390.88 232.74,392.62 233.09,394.28 233.44,396.47 233.79,398.23 234.15,399.9 234.5,401.46 234.85,403.35 235.21,404.88 235.56,406.59 235.91,408.39 236.26,410.02 236.62,412.04 237.14,413.78 237.67,415.15 238.2,417.01 238.73,418.38 240.32,419.9 241.9,421.56 243.49,422.89 245.08,423.67 247.19,424.41 249.31,424.73 251,424.43 252.69,424.56 254.38,424.98 256.08,424.71 257.77,424.73 259.58,425.08 261.4,424.79 263.21,424.66 265.02,425.05 266.84,425.2 268.65,424.96 270.46,425.15" fill="none" stroke="#000" stroke-width="1.3" stroke-linejoin="round"/>
<polyline points="211.05,421.56 213.26,421.59 215.46,422.62 217.05,421.36 218.63,420.5 219.43,419.47 220.22,417.64 221.01,415.28 221.81,414.15 222.41,412.34 223.02,410.65 223.62,409.09 224.23,408.47 224.83,406.21 225.43,405.16 226.04,403.58 226.83,401.93 227.62,400.03 228.42,399.1 229.21,397.23 229.74,395.2 230.27,394.23 230.8,392.01 231.33,390.88 231.86,388.94 232.38,386.84 232.91,385.06 233.44,383.48 235.56,381.37 236.26,383.69 236.97,385.26 237.67,386.65 238.2,388.01 238.73,390.29 239.26,391.07 239.79,393 241.38,391.29 242.96,389.83 245.08,390.88 246.13,392.72 247.19,393.88 248.25,395.12 250.37,394.06 250.89,395.43 251.42,398.35 251.95,399.27 252.48,401.46 253.27,402.76 254.07,404.96 254.86,406.02 255.65,407.81 256.45,409.15 257.24,410.47 258.03,412.08 258.83,414.15 259.88,415.66 260.94,416.67 262,418.38 264.12,419.56 266.23,420.5 268.35,421.4 270.46,422.62 272.05,422.98 273.63,424.01 275.22,423.87 276.81,424.31 278.45,424.49 280.1,424.94 281.74,424.21 283.39,424.27 285.03,425.27 286.68,425.25 288.32,424.67 289.97,424.69 291.62,425.15 293.24,425.47 294.86,425.75 296.48,424.89 298.1,425.82 299.72,425.32 301.35,425.35 302.97,425.38 304.59,425.41 306.21,425.45 307.83,425.48 309.46,425.51 311.08,425.54 312.7,425.58" fill="none" stroke="#000" stroke-width="3.1" stroke-linejoin="round"/>
<text transform="translate(198.45 341.5) scale(1.08 1) rotate(-90)" font-size="11" font-weight="normal" text-anchor="middle">200</text>
<text transform="translate(198.45 426) scale(1.08 1) rotate(-90)" font-size="11" font-weight="normal" text-anchor="middle">0</text>
<text transform="translate(185.15 386.3) scale(1.08 1) rotate(-90)" font-size="12.5" font-weight="normal" text-anchor="middle">Counts</text>
<text transform="translate(200.45 449.5) scale(1.1 1)" font-size="11" font-weight="normal" text-anchor="start" >10</text>
<text transform="translate(214.65 443.6) scale(1.1 1)" font-size="10.5" font-weight="normal" text-anchor="start" >0</text>
<text transform="translate(226.01 449.5) scale(1.1 1)" font-size="11" font-weight="normal" text-anchor="start" >10</text>
<text transform="translate(240.21 443.6) scale(1.1 1)" font-size="10.5" font-weight="normal" text-anchor="start" >1</text>
<text transform="translate(251.57 449.5) scale(1.1 1)" font-size="11" font-weight="normal" text-anchor="start" >10</text>
<text transform="translate(265.77 443.6) scale(1.1 1)" font-size="10.5" font-weight="normal" text-anchor="start" >2</text>
<text transform="translate(277.14 449.5) scale(1.1 1)" font-size="11" font-weight="normal" text-anchor="start" >10</text>
<text transform="translate(291.34 443.6) scale(1.1 1)" font-size="10.5" font-weight="normal" text-anchor="start" >3</text>
<text transform="translate(302.7 449.5) scale(1.1 1)" font-size="11" font-weight="normal" text-anchor="start" >10</text>
<text transform="translate(316.9 443.6) scale(1.1 1)" font-size="10.5" font-weight="normal" text-anchor="start" >4</text>
<text transform="translate(259.98 462.2) scale(1.08 1)" font-size="11" font-weight="normal" text-anchor="middle" >FL2-H</text>
<text transform="translate(273.7 363.4) scale(1.01 1)" font-size="13" font-weight="bold" text-anchor="start" xml:space="preserve">3 7 %</text>
<path d="M32.7 575.75H39.7M35.4 572.41H39.7M35.4 569.07H39.7M35.4 565.73H39.7M35.4 562.39H39.7M32.7 559.05H39.7M35.4 555.71H39.7M35.4 552.37H39.7M35.4 549.03H39.7M35.4 545.69H39.7M32.7 542.35H39.7M35.4 539.01H39.7M35.4 535.67H39.7M35.4 532.33H39.7M35.4 528.99H39.7M32.7 525.65H39.7M35.4 522.31H39.7M35.4 518.97H39.7M35.4 515.63H39.7M35.4 512.29H39.7M32.7 508.95H39.7M35.4 505.61H39.7M35.4 502.27H39.7M35.4 498.93H39.7M35.4 495.59H39.7M32.7 492.25H39.7M39.7 576.35V581.95M47.4 576.35V579.55M51.9 576.35V579.55M55.1 576.35V579.55M57.58 576.35V579.55M59.6 576.35V579.55M61.31 576.35V579.55M62.8 576.35V579.55M64.1 576.35V579.55M65.28 576.35V581.95M72.97 576.35V579.55M77.48 576.35V579.55M80.67 576.35V579.55M83.15 576.35V579.55M85.18 576.35V579.55M86.89 576.35V579.55M88.37 576.35V579.55M89.68 576.35V579.55M90.85 576.35V581.95M98.55 576.35V579.55M103.05 576.35V579.55M106.25 576.35V579.55M108.73 576.35V579.55M110.75 576.35V579.55M112.46 576.35V579.55M113.95 576.35V579.55M115.25 576.35V579.55M116.42 576.35V581.95M124.12 576.35V579.55M128.63 576.35V579.55M131.82 576.35V579.55M134.3 576.35V579.55M136.33 576.35V579.55M138.04 576.35V579.55M139.52 576.35V579.55M140.83 576.35V579.55M142 576.35V581.95" stroke="#000" stroke-width="1.35" fill="none"/>
<rect x="39.7" y="491.05" width="102.3" height="85.3" fill="none" stroke="#000" stroke-width="1.8"/>
<polygon points="40.5,511 43.5,513 44,525 43.6,541 40.5,541" fill="#000"/>
<polyline points="40,538.88 40.32,537.37 40.64,535.47 40.96,533.76 41.28,532.08 41.6,529.93 41.92,528.31 42.09,526.74 42.25,525.26 42.42,523.6 42.58,521.77 42.75,519.88 42.91,518.38 43.07,517.09 43.24,514.91 43.4,513.5 43.64,511.75 43.87,510.48 44.11,508.53 44.34,506.74 44.58,505.16 44.81,503.87 45.05,501.88 45.28,500.29 45.52,498.69 45.89,497.18 46.26,495.7 46.63,493.93 47,492.35 48.69,492.35 49.54,494.21 50.38,496.58 50.62,498.27 50.85,499.59 51.09,501.27 51.32,502.97 51.56,504.92 51.79,506.32 52.03,508.21 52.26,509.54 52.5,511.38 52.71,512.85 52.92,514.48 53.13,516.59 53.35,518.37 53.56,519.68 53.77,521.38 53.98,522.94 54.19,525.01 54.4,526.5 54.62,528.31 54.81,529.82 55,531.86 55.19,533.56 55.38,535.2 55.58,536.75 55.77,538.78 55.96,540.46 56.15,542.11 56.35,543.68 56.54,545.87 56.73,547.35 57,549.15 57.26,550.63 57.52,552.4 57.79,553.74 58.05,555.19 58.32,556.64 58.58,558.52 58.85,560.04 59.18,561.74 59.52,563.38 59.86,565.41 60.2,567.01 60.54,568.5 61.49,569.86 62.44,571.67 64.56,572.73 66.16,572.96 67.77,572.43 69.38,572.82 70.99,572.62 72.59,572.87 74.2,573 75.81,572.75 77.41,572.89 79.02,572.46 80.63,572.83 82.24,572.5 83.84,572.7 85.45,572.63 87.06,572.47 88.66,572.88 90.27,572.49 91.88,572.59 93.49,572.48 95.09,572.83 96.7,572.61 98.31,572.46 99.91,572.45 101.52,572.56 103.13,572.73 104.74,572.44 106.34,572.45 107.95,572.83 109.56,572.75 111.16,572.51 112.77,572.62 114.38,572.51 115.99,572.6 117.59,572.66 119.2,572.56 120.81,572.55 122.41,572.57 124.02,572.61 125.63,572.76 127.24,572.96 128.84,572.82 130.45,572.7 132.06,572.43 133.66,572.54 135.27,572.81 136.88,572.67 138.49,572.94 140.09,572.98 141.7,572.73" fill="none" stroke="#000" stroke-width="1.3" stroke-linejoin="round"/>
<polyline points="40,549.46 40.11,547.45 40.22,545.77 40.33,543.93 40.44,542.62 40.54,540.17 40.65,538.88 40.82,536.92 40.99,535.95 41.16,533.66 41.33,532.68 41.5,530.3 41.67,529.14 41.84,526.99 42.01,524.87 42.18,523.75 42.35,521.96 42.56,520.03 42.77,519.29 42.98,517.44 43.19,515.65 43.4,514.54 43.62,512.5 43.83,511.42 44.04,509.27 44.29,507.76 44.53,505.36 44.78,503.73 45.03,502.63 45.27,499.97 45.52,498.69 45.78,497.58 46.05,494.76 46.31,493.92 46.58,491.92 49.12,491.92 49.68,493.62 50.24,494.91 50.81,496.58 51.04,498.34 51.28,499.97 51.51,501.34 51.75,502.9 51.98,504.26 52.22,506.63 52.45,508.55 52.69,509.59 52.92,511.38 53.13,513.51 53.35,514.65 53.56,516.17 53.77,518.51 53.98,520.36 54.19,521.05 54.4,523.68 54.62,524.71 54.83,526.94 55.04,528.31 55.23,529.79 55.42,532.36 55.62,533.3 55.81,534.88 56,536.42 56.19,538.25 56.38,539.93 56.58,542.54 56.77,543.31 56.96,545.16 57.15,547.35 57.42,548.62 57.68,550.09 57.95,552.44 58.21,553.1 58.48,555.5 58.74,556.69 59,558.03 59.27,560.04 59.61,561.41 59.95,563.45 60.28,564.81 60.62,566.68 60.96,568.5 61.7,569.95 62.44,571.67 64.03,572.25 65.62,572.73 67.31,572.97 69,572.48 70.69,572.86 72.38,572.99 74.08,572.49 75.77,573.05 77.46,572.23 79.15,572.72 80.85,572.55 82.54,572.73 84.65,571.67 86.77,573.15 88.88,572.28 91,572.31 92.65,572.55 94.29,572.82 95.94,572.43 97.58,572.32 99.23,573.03 100.87,573.18 102.52,572.79 104.16,572.76 105.81,572.73 107.92,573.04 110.04,573.26 112.15,573.15 114.27,572.95 116.38,572.31 118.08,572.52 119.77,572.95 121.46,573.11 123.15,573.16 124.85,573.15 126.53,573.15 128.22,572.91 129.9,572.68 131.59,572.99 133.27,572.71 134.96,572.87 136.64,572.47 138.33,573.3 140.01,572.33 141.7,572.73" fill="none" stroke="#000" stroke-width="3.1" stroke-linejoin="round"/>
<text transform="translate(26.4 489.55) scale(1.08 1) rotate(-90)" font-size="11" font-weight="normal" text-anchor="middle">200</text>
<text transform="translate(26.4 574.05) scale(1.08 1) rotate(-90)" font-size="11" font-weight="normal" text-anchor="middle">0</text>
<text transform="translate(14.1 534.35) scale(1.08 1) rotate(-90)" font-size="12.5" font-weight="normal" text-anchor="middle">Counts</text>
<text transform="translate(29.4 597.55) scale(1.1 1)" font-size="11" font-weight="normal" text-anchor="start" >10</text>
<text transform="translate(43.6 591.65) scale(1.1 1)" font-size="10.5" font-weight="normal" text-anchor="start" >0</text>
<text transform="translate(54.98 597.55) scale(1.1 1)" font-size="11" font-weight="normal" text-anchor="start" >10</text>
<text transform="translate(69.18 591.65) scale(1.1 1)" font-size="10.5" font-weight="normal" text-anchor="start" >1</text>
<text transform="translate(80.55 597.55) scale(1.1 1)" font-size="11" font-weight="normal" text-anchor="start" >10</text>
<text transform="translate(94.75 591.65) scale(1.1 1)" font-size="10.5" font-weight="normal" text-anchor="start" >2</text>
<text transform="translate(106.12 597.55) scale(1.1 1)" font-size="11" font-weight="normal" text-anchor="start" >10</text>
<text transform="translate(120.33 591.65) scale(1.1 1)" font-size="10.5" font-weight="normal" text-anchor="start" >3</text>
<text transform="translate(131.7 597.55) scale(1.1 1)" font-size="11" font-weight="normal" text-anchor="start" >10</text>
<text transform="translate(145.9 591.65) scale(1.1 1)" font-size="10.5" font-weight="normal" text-anchor="start" >4</text>
<text transform="translate(88.95 610.25) scale(1.08 1)" font-size="11" font-weight="normal" text-anchor="middle" >FL2-H</text>
<text transform="translate(112.6 511) scale(1.01 1)" font-size="13" font-weight="bold" text-anchor="start" xml:space="preserve">2 %</text>
<path d="M203.75 576H210.75M206.45 572.66H210.75M206.45 569.32H210.75M206.45 565.98H210.75M206.45 562.64H210.75M203.75 559.3H210.75M206.45 555.96H210.75M206.45 552.62H210.75M206.45 549.28H210.75M206.45 545.94H210.75M203.75 542.6H210.75M206.45 539.26H210.75M206.45 535.92H210.75M206.45 532.58H210.75M206.45 529.24H210.75M203.75 525.9H210.75M206.45 522.56H210.75M206.45 519.22H210.75M206.45 515.88H210.75M206.45 512.54H210.75M203.75 509.2H210.75M206.45 505.86H210.75M206.45 502.52H210.75M206.45 499.18H210.75M206.45 495.84H210.75M203.75 492.5H210.75M210.75 576.6V582.2M218.45 576.6V579.8M222.95 576.6V579.8M226.14 576.6V579.8M228.62 576.6V579.8M230.64 576.6V579.8M232.35 576.6V579.8M233.84 576.6V579.8M235.14 576.6V579.8M236.31 576.6V582.2M244.01 576.6V579.8M248.51 576.6V579.8M251.7 576.6V579.8M254.18 576.6V579.8M256.2 576.6V579.8M257.92 576.6V579.8M259.4 576.6V579.8M260.71 576.6V579.8M261.88 576.6V582.2M269.57 576.6V579.8M274.07 576.6V579.8M277.27 576.6V579.8M279.74 576.6V579.8M281.77 576.6V579.8M283.48 576.6V579.8M284.96 576.6V579.8M286.27 576.6V579.8M287.44 576.6V582.2M295.13 576.6V579.8M299.63 576.6V579.8M302.83 576.6V579.8M305.3 576.6V579.8M307.33 576.6V579.8M309.04 576.6V579.8M310.52 576.6V579.8M311.83 576.6V579.8M313 576.6V582.2" stroke="#000" stroke-width="1.35" fill="none"/>
<rect x="210.75" y="491.3" width="102.25" height="85.3" fill="none" stroke="#000" stroke-width="1.8"/>
<polyline points="211.05,549.46 212.42,548.2 213.78,547.46 215.15,546.37 216.52,545.23 216.94,543.53 217.37,541.68 217.79,540.33 218.21,538.65 218.63,536.77 219.06,535.08 219.48,533.39 219.9,531.53 220.33,529.7 220.75,528.31 221.28,526.64 221.81,525.19 222.34,523.29 222.87,521.96 223.29,520.45 223.71,518.42 224.13,516.72 224.56,514.92 224.98,513.5 226.46,512.44 227.31,514.33 228.15,515.62 228.58,517.45 229,519.23 229.42,520.76 229.85,522.11 230.27,524.08 230.62,525.74 230.97,527.6 231.33,529.13 231.68,531.4 232.03,532.81 232.38,534.65 232.74,536.21 233.09,538.37 233.44,539.72 233.79,541.96 234.15,543.44 234.5,545.23 234.85,547.02 235.21,548.66 235.56,550.51 235.91,552.09 236.26,553.77 236.62,555.81 237.04,557.72 237.46,559.03 237.88,561.05 238.31,562.4 238.73,564.27 239.79,566.67 240.85,568.5 242.43,569.79 244.02,570.62 245.61,571.61 247.19,572.31 248.84,572.56 250.48,572.54 252.13,572.73 253.77,572.46 255.42,572.76 257.06,573.07 258.71,572.79 260.35,573.31 262,573.15 263.66,573.39 265.31,573.1 266.97,573.07 268.62,573.12 270.28,573.09 271.93,573.45 273.59,573.09 275.24,572.87 276.9,572.91 278.56,573.28 280.21,573.45 281.87,573.15 283.52,573.15 285.18,573.18 286.83,573.3 288.49,572.99 290.14,573.22 291.8,573.19 293.45,573.23 295.11,572.96 296.77,572.96 298.42,573.06 300.08,573.15" fill="none" stroke="#000" stroke-width="1.3" stroke-linejoin="round"/>
<polyline points="211.05,569.56 212.68,569.81 214.31,568.84 215.95,568.88 217.58,568.5 219.16,567.21 220.75,566.38 222.34,565.06 223.92,564.69 226.04,565.33 228.15,567.02 230.27,567.24 232.38,568.5 234.5,569.41 236.62,569.56 238.2,570.42 239.79,570.62 241.38,568.88 242.96,567.44 245.08,568.5 246.13,567.13 247.19,565.33 247.9,563.78 248.6,562.28 249.31,560.04 250.37,558.47 251.42,555.81 253.01,554.64 254.6,553.69 255.65,552.87 256.71,551.43 257.77,549.46 259.36,547.98 260.94,546.29 262.53,545.16 264.12,543.12 265.7,542.05 267.29,541 268.88,542.44 270.46,544.17 272.05,544.93 273.63,546.29 275.75,547.35 276.54,549.38 277.34,550.11 278.13,551.59 278.92,553.69 280.51,555.12 282.1,555.81 283.68,557.19 285.27,557.92 287.38,558.98 288.97,560.55 290.56,562.15 292.14,564.14 293.73,565.33 294.79,566.2 295.85,567.86 296.9,569.56 298.49,570.89 300.08,572.73 302.19,572.95 304.31,573.37 305.99,573.01 307.66,572.93 309.34,573.3 311.02,574.01 312.7,573.58" fill="none" stroke="#000" stroke-width="3.1" stroke-linejoin="round"/>
<text transform="translate(198.45 489.8) scale(1.08 1) rotate(-90)" font-size="11" font-weight="normal" text-anchor="middle">200</text>
<text transform="translate(198.45 574.3) scale(1.08 1) rotate(-90)" font-size="11" font-weight="normal" text-anchor="middle">0</text>
<text transform="translate(185.15 534.6) scale(1.08 1) rotate(-90)" font-size="12.5" font-weight="normal" text-anchor="middle">Counts</text>
<text transform="translate(200.45 597.8) scale(1.1 1)" font-size="11" font-weight="normal" text-anchor="start" >10</text>
<text transform="translate(214.65 591.9) scale(1.1 1)" font-size="10.5" font-weight="normal" text-anchor="start" >0</text>
<text transform="translate(226.01 597.8) scale(1.1 1)" font-size="11" font-weight="normal" text-anchor="start" >10</text>
<text transform="translate(240.21 591.9) scale(1.1 1)" font-size="10.5" font-weight="normal" text-anchor="start" >1</text>
<text transform="translate(251.57 597.8) scale(1.1 1)" font-size="11" font-weight="normal" text-anchor="start" >10</text>
<text transform="translate(265.77 591.9) scale(1.1 1)" font-size="10.5" font-weight="normal" text-anchor="start" >2</text>
<text transform="translate(277.14 597.8) scale(1.1 1)" font-size="11" font-weight="normal" text-anchor="start" >10</text>
<text transform="translate(291.34 591.9) scale(1.1 1)" font-size="10.5" font-weight="normal" text-anchor="start" >3</text>
<text transform="translate(302.7 597.8) scale(1.1 1)" font-size="11" font-weight="normal" text-anchor="start" >10</text>
<text transform="translate(316.9 591.9) scale(1.1 1)" font-size="10.5" font-weight="normal" text-anchor="start" >4</text>
<text transform="translate(259.98 610.5) scale(1.08 1)" font-size="11" font-weight="normal" text-anchor="middle" >FL2-H</text>
<text transform="translate(269.9 511) scale(1.01 1)" font-size="13" font-weight="bold" text-anchor="start" xml:space="preserve">8 6 %</text>
<path d="M32.6 724.7H39.6M35.3 721.36H39.6M35.3 718.02H39.6M35.3 714.68H39.6M35.3 711.34H39.6M32.6 708H39.6M35.3 704.66H39.6M35.3 701.32H39.6M35.3 697.98H39.6M35.3 694.64H39.6M32.6 691.3H39.6M35.3 687.96H39.6M35.3 684.62H39.6M35.3 681.28H39.6M35.3 677.94H39.6M32.6 674.6H39.6M35.3 671.26H39.6M35.3 667.92H39.6M35.3 664.58H39.6M35.3 661.24H39.6M32.6 657.9H39.6M35.3 654.56H39.6M35.3 651.22H39.6M35.3 647.88H39.6M35.3 644.54H39.6M32.6 641.2H39.6M39.6 725.3V730.9M47.3 725.3V728.5M51.8 725.3V728.5M54.99 725.3V728.5M57.47 725.3V728.5M59.49 725.3V728.5M61.2 725.3V728.5M62.69 725.3V728.5M63.99 725.3V728.5M65.16 725.3V730.9M72.86 725.3V728.5M77.36 725.3V728.5M80.55 725.3V728.5M83.03 725.3V728.5M85.05 725.3V728.5M86.77 725.3V728.5M88.25 725.3V728.5M89.56 725.3V728.5M90.72 725.3V730.9M98.42 725.3V728.5M102.92 725.3V728.5M106.12 725.3V728.5M108.59 725.3V728.5M110.62 725.3V728.5M112.33 725.3V728.5M113.81 725.3V728.5M115.12 725.3V728.5M116.29 725.3V730.9M123.98 725.3V728.5M128.48 725.3V728.5M131.68 725.3V728.5M134.15 725.3V728.5M136.18 725.3V728.5M137.89 725.3V728.5M139.37 725.3V728.5M140.68 725.3V728.5M141.85 725.3V730.9" stroke="#000" stroke-width="1.35" fill="none"/>
<rect x="39.6" y="640" width="102.25" height="85.3" fill="none" stroke="#000" stroke-width="1.8"/>
<polygon points="40.5,668 44,668 47.5,680 46.8,685 45,690 42,700.6 40.5,700.6" fill="#000"/>
<polyline points="39.9,684.77 40.29,683.15 40.68,681.35 41.07,679.55 41.46,678.28 41.85,676.37 42.24,674.75 42.63,673.19 43.01,671.69 43.4,669.96 43.62,668.56 43.83,666.55 44.04,665.18 44.25,663.49 44.46,661.35 44.67,659.55 44.88,657.91 45.1,656.63 45.31,654.79 45.52,653.04 46.05,651.7 46.58,650.15 47.11,648.37 47.63,646.69 48.69,648.83 49.75,650.92 49.91,652.31 50.08,653.93 50.24,656.04 50.41,657.61 50.57,659.31 50.74,660.83 50.9,662.54 51.07,664.17 51.23,665.73 51.51,667.73 51.79,669.02 52.08,671.02 52.36,672.67 52.64,674.74 52.92,676.31 53.19,678.12 53.45,679.33 53.72,680.82 53.98,682.5 54.25,684.13 54.51,685.99 54.77,687.36 55.04,689 55.3,690.74 55.57,692.05 55.83,693.77 56.1,695.16 56.36,697.02 56.62,698.53 56.89,700.32 57.15,701.69 57.51,703.72 57.86,705.23 58.21,706.72 58.56,709.01 58.92,710.77 59.27,712.27 59.8,713.84 60.33,715.43 60.86,717.29 61.38,718.62 62.97,719.53 64.56,720.73 66.2,720.6 67.84,720.88 69.48,720.88 71.12,720.9 72.76,721 74.41,720.83 76.05,720.78 77.69,720.68 79.33,720.69 80.97,720.8 82.61,720.85 84.25,721.05 85.89,720.99 87.54,720.94 89.18,720.88 90.82,721.04 92.46,720.91 94.1,721.17 95.74,721.09 97.38,721.14 99.02,720.96 100.67,721.06 102.31,721.2 103.95,721.35 105.59,721.11 107.23,721 108.87,721.24 110.51,720.91 112.15,721.15" fill="none" stroke="#000" stroke-width="1.3" stroke-linejoin="round"/>
<polyline points="39.9,684.77 40.72,683.16 41.53,681.39 42.35,680.54 42.88,679.02 43.4,677.07 43.93,675.65 44.46,674.19 45.52,672.42 46.58,669.96 47.63,668.01 48.69,665.73 49.75,667.29 50.81,669.96 51.34,671.48 51.87,672.54 52.39,675.11 52.92,676.31 53.45,677.89 53.98,679.9 54.51,680.78 55.04,682.65 55.39,684.8 55.74,685.75 56.1,688.38 56.45,689.57 56.8,690.96 57.15,693.23 57.51,695.49 57.86,697.16 58.21,698.15 58.56,700.37 58.92,702.02 59.27,703.81 59.8,704.97 60.33,706.89 60.86,709.13 61.38,710.15 62.44,712.13 63.5,714.38 65.09,715.75 66.67,716.5 68.26,717.87 69.85,718.62 71.54,719.15 73.23,719.17 74.92,719.73 76.62,719.27 78.31,719.67 80.07,719.75 81.83,719.82 83.6,719.51 85.36,720.08 87.12,720.52 88.88,720.31 90.65,720.47 92.41,720.06 94.17,720.21 95.94,720.57 97.7,720.19 99.46,720.73 101.22,720.37 102.99,721.02 104.75,720.26 106.51,720.27 108.28,720.32 110.04,720.73 111.8,720.82 113.56,720.3 115.33,721.17 117.09,721.09 118.85,721.39 120.62,721.15 122.38,721.59 124.14,721.63 125.9,721.49 127.67,721.34 129.43,721.8 131.19,721.79 133.31,721.58 135.42,721.89 137.54,722.42 139.12,721.82 140.71,720.73 141.55,718.62" fill="none" stroke="#000" stroke-width="3.1" stroke-linejoin="round"/>
<text transform="translate(26.3 638.5) scale(1.08 1) rotate(-90)" font-size="11" font-weight="normal" text-anchor="middle">200</text>
<text transform="translate(26.3 723) scale(1.08 1) rotate(-90)" font-size="11" font-weight="normal" text-anchor="middle">0</text>
<text transform="translate(14 683.3) scale(1.08 1) rotate(-90)" font-size="12.5" font-weight="normal" text-anchor="middle">Counts</text>
<text transform="translate(29.3 746.5) scale(1.1 1)" font-size="11" font-weight="normal" text-anchor="start" >10</text>
<text transform="translate(43.5 740.6) scale(1.1 1)" font-size="10.5" font-weight="normal" text-anchor="start" >0</text>
<text transform="translate(54.86 746.5) scale(1.1 1)" font-size="11" font-weight="normal" text-anchor="start" >10</text>
<text transform="translate(69.06 740.6) scale(1.1 1)" font-size="10.5" font-weight="normal" text-anchor="start" >1</text>
<text transform="translate(80.42 746.5) scale(1.1 1)" font-size="11" font-weight="normal" text-anchor="start" >10</text>
<text transform="translate(94.62 740.6) scale(1.1 1)" font-size="10.5" font-weight="normal" text-anchor="start" >2</text>
<text transform="translate(105.99 746.5) scale(1.1 1)" font-size="11" font-weight="normal" text-anchor="start" >10</text>
<text transform="translate(120.19 740.6) scale(1.1 1)" font-size="10.5" font-weight="normal" text-anchor="start" >3</text>
<text transform="translate(131.55 746.5) scale(1.1 1)" font-size="11" font-weight="normal" text-anchor="start" >10</text>
<text transform="translate(145.75 740.6) scale(1.1 1)" font-size="10.5" font-weight="normal" text-anchor="start" >4</text>
<text transform="translate(88.82 759.2) scale(1.08 1)" font-size="11" font-weight="normal" text-anchor="middle" >FL2-H</text>
<text transform="translate(101.9 662.6) scale(1.01 1)" font-size="13" font-weight="bold" text-anchor="start" xml:space="preserve">1 1 %</text>
<path d="M203.3 725.1H210.3M206 721.76H210.3M206 718.42H210.3M206 715.08H210.3M206 711.74H210.3M203.3 708.4H210.3M206 705.06H210.3M206 701.72H210.3M206 698.38H210.3M206 695.04H210.3M203.3 691.7H210.3M206 688.36H210.3M206 685.02H210.3M206 681.68H210.3M206 678.34H210.3M203.3 675H210.3M206 671.66H210.3M206 668.32H210.3M206 664.98H210.3M206 661.64H210.3M203.3 658.3H210.3M206 654.96H210.3M206 651.62H210.3M206 648.28H210.3M206 644.94H210.3M203.3 641.6H210.3M210.3 725.7V731.3M218.03 725.7V728.9M222.55 725.7V728.9M225.76 725.7V728.9M228.25 725.7V728.9M230.28 725.7V728.9M232 725.7V728.9M233.49 725.7V728.9M234.8 725.7V728.9M235.98 725.7V731.3M243.7 725.7V728.9M248.23 725.7V728.9M251.43 725.7V728.9M253.92 725.7V728.9M255.95 725.7V728.9M257.67 725.7V728.9M259.16 725.7V728.9M260.48 725.7V728.9M261.65 725.7V731.3M269.38 725.7V728.9M273.9 725.7V728.9M277.11 725.7V728.9M279.6 725.7V728.9M281.63 725.7V728.9M283.35 725.7V728.9M284.84 725.7V728.9M286.15 725.7V728.9M287.32 725.7V731.3M295.05 725.7V728.9M299.58 725.7V728.9M302.78 725.7V728.9M305.27 725.7V728.9M307.3 725.7V728.9M309.02 725.7V728.9M310.51 725.7V728.9M311.83 725.7V728.9M313 725.7V731.3" stroke="#000" stroke-width="1.35" fill="none"/>
<rect x="210.3" y="640.4" width="102.7" height="85.3" fill="none" stroke="#000" stroke-width="1.8"/>
<polyline points="210.6,697.46 211.78,695.9 212.97,694.69 214.15,693.59 215.34,692.49 216.52,691.12 216.87,689.14 217.22,687.36 217.58,685.67 217.93,684.22 218.28,682.09 218.63,680.54 219.06,678.99 219.48,677.25 219.9,675.24 220.33,673.79 220.75,672.08 221.28,670.46 221.81,668.85 222.34,667.62 222.87,665.49 223.39,663.86 223.92,662.56 226.04,661.5 227.1,663.35 228.15,664.67 228.46,666.28 228.76,667.82 229.06,669.56 229.36,671.24 229.66,673.26 229.97,674.47 230.27,676.31 230.53,677.72 230.8,679.53 231.06,681.1 231.33,682.93 231.59,684.44 231.86,685.74 232.12,687.24 232.38,689 232.62,690.85 232.85,692.58 233.09,693.65 233.32,695.72 233.56,697.45 233.79,698.96 234.03,700.35 234.26,702.34 234.5,703.81 234.92,705.64 235.35,707.01 235.77,708.97 236.19,710.41 236.62,712.27 237.67,714.11 238.73,716.5 240.14,717.46 241.55,718.52 242.96,719.67 244.55,719.98 246.13,720.5 247.72,720.99 249.31,721.15 250.91,721.45 252.52,721.48 254.12,721.52 255.73,721.42 257.33,721.15 258.94,721.09 260.54,721.38 262.15,721.36 263.75,721.46 265.36,721.13 266.96,721.21 268.56,721.67 270.17,721.5 271.77,721.58 273.38,721.24 274.98,721.44 276.59,721.77 278.19,721.64 279.8,721.86 281.4,721.41 283.01,721.59 284.61,721.82 286.22,721.62 287.82,721.85 289.43,721.74 291.03,721.49 292.64,721.5 294.24,722.06 295.85,721.79" fill="none" stroke="#000" stroke-width="1.3" stroke-linejoin="round"/>
<polyline points="210.6,714.38 212.34,713.93 214.09,714.02 215.83,714.19 217.58,714.38 219.69,714.64 221.81,714.38 223.92,715.34 226.04,715.44 228.15,714.36 230.27,713.33 231.68,712.27 233.09,711.56 234.5,710.15 236.62,709.36 238.73,709.1 240.85,708.41 242.96,708.04 245.08,707.12 247.19,705.92 249.31,705.03 251.42,703.81 253.54,702.72 255.65,702.75 257.77,702.81 259.88,703.81 261.47,702.84 263.06,702.75 264.64,704.61 266.23,705.92 268.35,706.68 270.46,706.98 272.58,708.08 274.69,708.04 276.81,709.42 278.92,710.15 281.04,710.92 283.15,712.27 285.27,713.12 287.38,713.33 289.5,714.44 291.62,714.38 293.73,714.73 295.85,715.44 297.96,715.38 300.08,716.5 302.19,716.88 304.31,717.56 306.42,718.35 308.54,719.67 310.65,720.73 311.08,718.76 311.5,717.01 311.92,715.52 312.35,714.38 312.42,713.13 312.49,710.46 312.56,709.44 312.63,707.26 312.7,705.92" fill="none" stroke="#000" stroke-width="3.1" stroke-linejoin="round"/>
<text transform="translate(198 638.9) scale(1.08 1) rotate(-90)" font-size="11" font-weight="normal" text-anchor="middle">200</text>
<text transform="translate(198 723.4) scale(1.08 1) rotate(-90)" font-size="11" font-weight="normal" text-anchor="middle">0</text>
<text transform="translate(184.7 683.7) scale(1.08 1) rotate(-90)" font-size="12.5" font-weight="normal" text-anchor="middle">Counts</text>
<text transform="translate(200 746.9) scale(1.1 1)" font-size="11" font-weight="normal" text-anchor="start" >10</text>
<text transform="translate(214.2 741) scale(1.1 1)" font-size="10.5" font-weight="normal" text-anchor="start" >0</text>
<text transform="translate(225.68 746.9) scale(1.1 1)" font-size="11" font-weight="normal" text-anchor="start" >10</text>
<text transform="translate(239.88 741) scale(1.1 1)" font-size="10.5" font-weight="normal" text-anchor="start" >1</text>
<text transform="translate(251.35 746.9) scale(1.1 1)" font-size="11" font-weight="normal" text-anchor="start" >10</text>
<text transform="translate(265.55 741) scale(1.1 1)" font-size="10.5" font-weight="normal" text-anchor="start" >2</text>
<text transform="translate(277.02 746.9) scale(1.1 1)" font-size="11" font-weight="normal" text-anchor="start" >10</text>
<text transform="translate(291.22 741) scale(1.1 1)" font-size="10.5" font-weight="normal" text-anchor="start" >3</text>
<text transform="translate(302.7 746.9) scale(1.1 1)" font-size="11" font-weight="normal" text-anchor="start" >10</text>
<text transform="translate(316.9 741) scale(1.1 1)" font-size="10.5" font-weight="normal" text-anchor="start" >4</text>
<text transform="translate(259.75 759.6) scale(1.08 1)" font-size="11" font-weight="normal" text-anchor="middle" >FL2-H</text>
<text transform="translate(272 661.5) scale(1.01 1)" font-size="13" font-weight="bold" text-anchor="start" xml:space="preserve">8 0 %</text>
<path d="M32.35 872.5H39.35M35.05 869.16H39.35M35.05 865.82H39.35M35.05 862.48H39.35M35.05 859.14H39.35M32.35 855.8H39.35M35.05 852.46H39.35M35.05 849.12H39.35M35.05 845.78H39.35M35.05 842.44H39.35M32.35 839.1H39.35M35.05 835.76H39.35M35.05 832.42H39.35M35.05 829.08H39.35M35.05 825.74H39.35M32.35 822.4H39.35M35.05 819.06H39.35M35.05 815.72H39.35M35.05 812.38H39.35M35.05 809.04H39.35M32.35 805.7H39.35M35.05 802.36H39.35M35.05 799.02H39.35M35.05 795.68H39.35M35.05 792.34H39.35M32.35 789H39.35M39.35 873.1V878.7M47.06 873.1V876.3M51.58 873.1V876.3M54.78 873.1V876.3M57.26 873.1V876.3M59.29 873.1V876.3M61.01 873.1V876.3M62.49 873.1V876.3M63.8 873.1V876.3M64.97 873.1V878.7M72.69 873.1V876.3M77.2 873.1V876.3M80.4 873.1V876.3M82.89 873.1V876.3M84.92 873.1V876.3M86.63 873.1V876.3M88.12 873.1V876.3M89.43 873.1V876.3M90.6 873.1V878.7M98.31 873.1V876.3M102.83 873.1V876.3M106.03 873.1V876.3M108.51 873.1V876.3M110.54 873.1V876.3M112.26 873.1V876.3M113.74 873.1V876.3M115.05 873.1V876.3M116.22 873.1V878.7M123.94 873.1V876.3M128.45 873.1V876.3M131.65 873.1V876.3M134.14 873.1V876.3M136.17 873.1V876.3M137.88 873.1V876.3M139.37 873.1V876.3M140.68 873.1V876.3M141.85 873.1V878.7" stroke="#000" stroke-width="1.35" fill="none"/>
<rect x="39.35" y="787.8" width="102.5" height="85.3" fill="none" stroke="#000" stroke-width="1.8"/>
<polyline points="39.65,832.77 41,831.69 42.35,830.65 42.52,829.12 42.7,826.85 42.88,825.23 43.05,823.88 43.23,821.94 43.4,820.08 43.62,818.16 43.83,816.6 44.04,815.23 44.25,813.27 44.46,811.33 44.67,810.16 44.88,808.01 45.1,806.62 45.31,804.92 45.52,803.15 46.05,801.54 46.58,800.26 47.11,798.2 47.63,796.87 48.16,794.99 48.69,793.63 49.4,795.68 50.1,796.95 50.81,798.92 51.04,800.58 51.28,802.41 51.51,804.09 51.75,805.26 51.98,807.38 52.22,809 52.45,810.33 52.69,812.24 52.92,813.73 53.13,815.26 53.35,816.91 53.56,818.61 53.77,820.39 53.98,822.39 54.19,823.86 54.4,825.87 54.62,827.51 54.83,828.79 55.04,830.65 55.27,832.26 55.51,833.68 55.74,835.64 55.98,837.3 56.21,838.93 56.45,840.28 56.68,842.24 56.92,843.58 57.15,845.46 57.39,847.31 57.62,848.73 57.86,850.16 58.09,852.33 58.33,853.95 58.56,855.23 58.8,857.24 59.03,858.49 59.27,860.27 59.8,861.88 60.33,863.49 60.86,865.2 61.38,866.62 63.5,868.73 65.13,868.48 66.75,868.47 68.38,868.55 70,868.7 71.63,868.95 73.26,868.92 74.88,868.56 76.51,868.94 78.13,868.62 79.76,868.53 81.39,868.82 83.01,869.08 84.64,869.09 86.26,868.82 87.89,869.04 89.52,868.69 91.14,868.68 92.77,869.16 94.39,869 96.02,868.71 97.65,868.82 99.27,869.09 100.9,868.67 102.52,868.75 104.15,869.13 105.78,868.8 107.4,868.92 109.03,868.94 110.66,868.97 112.28,868.88 113.91,868.85 115.53,869.19 117.16,869.18 118.79,869.3 120.41,868.76 122.04,868.84 123.66,869.27 125.29,868.95 126.92,869.25 128.54,868.97 130.17,869.03 131.79,869.2 133.42,869.07 135.05,869.13 136.67,868.85 138.3,869.35 139.92,869.22 141.55,869.15" fill="none" stroke="#000" stroke-width="1.3" stroke-linejoin="round"/>
<polyline points="39.65,869.15 41.27,868.84 42.88,869.08 44.5,869.26 46.11,869.59 47.73,868.47 49.34,869.54 50.96,869.11 52.57,868.43 54.19,868.8 55.81,869.21 57.42,868.46 59.04,869.01 60.65,868.95 62.27,868.95 63.88,868.27 65.5,868.24 67.11,869.35 68.73,868.37 70.35,868.38 71.96,868.73 73.55,868.55 75.13,867.62 76.72,868.22 78.31,867.67 80.07,867.99 81.83,867.48 83.6,867.8 85.36,867.65 87.12,867.9 88.88,867.67 90.65,867.11 92.41,866.76 94.17,866.66 95.94,867.49 97.7,867.37 99.46,866.62 100.87,864.92 102.28,864.07 103.69,862.38 104.22,860.3 104.75,858.98 105.28,856.96 105.81,855.41 106.34,854.06 106.87,851.81 107.08,850.56 107.29,848.94 107.5,847.13 107.71,845.01 107.92,842.99 108.13,842.05 108.35,840.14 108.56,837.84 108.77,836.45 108.98,834.88 109.14,832.72 109.31,831.96 109.47,830.53 109.63,827.79 109.79,826.9 109.96,825.6 110.12,823.97 110.28,822.14 110.45,819.78 110.61,818.69 110.77,816.79 110.93,815.45 111.1,813.73 111.31,811.87 111.52,810 111.73,808.77 111.94,806.5 112.15,804.83 112.37,803.72 112.58,802.17 112.79,799.73 113,797.98 113.21,796.81 113.74,795.13 114.27,793.15 114.8,792.58 115.33,790.46 117.44,789.4 118.15,790.92 118.85,792.35 119.56,794.69 119.79,796.32 120.03,798.03 120.26,799.55 120.5,801.36 120.73,802.41 120.97,804.15 121.2,806.33 121.44,807.3 121.67,809.5 121.84,811.06 122,812.44 122.16,814.69 122.32,816.04 122.49,817.76 122.65,819.02 122.81,820.88 122.97,822.48 123.14,824.11 123.3,825.9 123.46,827.4 123.63,829.34 123.79,830.65 123.98,832.29 124.17,833.79 124.37,835.31 124.56,837.06 124.75,838.72 124.94,840.54 125.13,843.01 125.33,844.68 125.52,845.99 125.71,848.37 125.9,849.69 126.17,850.97 126.43,852.75 126.7,854.69 126.96,855.68 127.23,857.53 127.49,858.97 127.75,861.04 128.02,862.38 128.72,863.75 129.43,865.82 130.13,867.67 131.72,868.68 133.31,869.15 134.96,869.38 136.6,869.7 138.25,869.05 139.9,869.24 141.55,869.15" fill="none" stroke="#000" stroke-width="3.1" stroke-linejoin="round"/>
<text transform="translate(26.05 786.3) scale(1.08 1) rotate(-90)" font-size="11" font-weight="normal" text-anchor="middle">200</text>
<text transform="translate(26.05 870.8) scale(1.08 1) rotate(-90)" font-size="11" font-weight="normal" text-anchor="middle">0</text>
<text transform="translate(13.75 831.1) scale(1.08 1) rotate(-90)" font-size="12.5" font-weight="normal" text-anchor="middle">Counts</text>
<text transform="translate(29.05 894.3) scale(1.1 1)" font-size="11" font-weight="normal" text-anchor="start" >10</text>
<text transform="translate(43.25 888.4) scale(1.1 1)" font-size="10.5" font-weight="normal" text-anchor="start" >0</text>
<text transform="translate(54.67 894.3) scale(1.1 1)" font-size="11" font-weight="normal" text-anchor="start" >10</text>
<text transform="translate(68.88 888.4) scale(1.1 1)" font-size="10.5" font-weight="normal" text-anchor="start" >1</text>
<text transform="translate(80.3 894.3) scale(1.1 1)" font-size="11" font-weight="normal" text-anchor="start" >10</text>
<text transform="translate(94.5 888.4) scale(1.1 1)" font-size="10.5" font-weight="normal" text-anchor="start" >2</text>
<text transform="translate(105.92 894.3) scale(1.1 1)" font-size="11" font-weight="normal" text-anchor="start" >10</text>
<text transform="translate(120.12 888.4) scale(1.1 1)" font-size="10.5" font-weight="normal" text-anchor="start" >3</text>
<text transform="translate(131.55 894.3) scale(1.1 1)" font-size="11" font-weight="normal" text-anchor="start" >10</text>
<text transform="translate(145.75 888.4) scale(1.1 1)" font-size="10.5" font-weight="normal" text-anchor="start" >4</text>
<text transform="translate(88.7 907) scale(1.08 1)" font-size="11" font-weight="normal" text-anchor="middle" >FL2-H</text>
<text transform="translate(65.7 809.9) scale(1.01 1)" font-size="13" font-weight="bold" text-anchor="start" xml:space="preserve">9 7 %</text>
<path d="M203.55 872.9H210.55M206.25 869.56H210.55M206.25 866.22H210.55M206.25 862.88H210.55M206.25 859.54H210.55M203.55 856.2H210.55M206.25 852.86H210.55M206.25 849.52H210.55M206.25 846.18H210.55M206.25 842.84H210.55M203.55 839.5H210.55M206.25 836.16H210.55M206.25 832.82H210.55M206.25 829.48H210.55M206.25 826.14H210.55M203.55 822.8H210.55M206.25 819.46H210.55M206.25 816.12H210.55M206.25 812.78H210.55M206.25 809.44H210.55M203.55 806.1H210.55M206.25 802.76H210.55M206.25 799.42H210.55M206.25 796.08H210.55M206.25 792.74H210.55M203.55 789.4H210.55M210.55 873.5V879.1M218.11 873.5V876.7M222.53 873.5V876.7M225.67 873.5V876.7M228.1 873.5V876.7M230.09 873.5V876.7M231.77 873.5V876.7M233.23 873.5V876.7M234.51 873.5V876.7M235.66 873.5V879.1M243.22 873.5V876.7M247.64 873.5V876.7M250.78 873.5V876.7M253.22 873.5V876.7M255.2 873.5V876.7M256.89 873.5V876.7M258.34 873.5V876.7M259.63 873.5V876.7M260.77 873.5V879.1M268.33 873.5V876.7M272.76 873.5V876.7M275.89 873.5V876.7M278.33 873.5V876.7M280.32 873.5V876.7M282 873.5V876.7M283.45 873.5V876.7M284.74 873.5V876.7M285.89 873.5V879.1M293.45 873.5V876.7M297.87 873.5V876.7M301.01 873.5V876.7M303.44 873.5V876.7M305.43 873.5V876.7M307.11 873.5V876.7M308.57 873.5V876.7M309.85 873.5V876.7M311 873.5V879.1" stroke="#000" stroke-width="1.35" fill="none"/>
<rect x="210.55" y="788.2" width="100.45" height="85.3" fill="none" stroke="#000" stroke-width="1.8"/>
<polyline points="210.85,845.46 212.63,844.33 214.4,843.35 214.93,841.6 215.46,839.97 215.99,838.83 216.52,837 216.94,835.35 217.37,833.73 217.79,831.95 218.21,830.16 218.63,828.54 219.06,826.99 219.48,825.2 219.9,823.63 220.33,821.87 220.75,820.08 221.28,818.69 221.81,816.87 222.34,815.11 222.87,813.52 223.39,812.28 223.92,810.56 226.04,808.44 226.74,810.01 227.45,812.06 228.15,813.73 228.42,815.39 228.68,816.64 228.95,818.66 229.21,819.8 229.48,821.88 229.74,823.45 230,824.67 230.27,826.42 230.53,828.15 230.8,829.74 231.06,830.96 231.33,832.87 231.59,834.13 231.86,836.19 232.12,837.64 232.38,839.12 232.65,840.99 232.91,842.02 233.18,843.77 233.44,845.53 233.71,847.11 233.97,848.44 234.24,850.45 234.5,851.81 234.92,853.71 235.35,855.07 235.77,856.67 236.19,858.68 236.62,860.27 237.67,862.33 238.73,864.5 240.14,865.66 241.55,866.61 242.96,867.67 244.55,867.87 246.13,867.91 247.72,868.25 249.31,868.73 250.92,868.72 252.54,868.89 254.15,868.72 255.77,868.92 257.39,868.81 259,869.03 260.62,868.9 262.23,868.71 263.85,868.61 265.46,868.58 267.08,868.58 268.69,869.08 270.31,869.1 271.93,869.04 273.54,868.66 275.16,869.01 276.77,868.7 278.39,869.16 280,869.04 281.62,869.1 283.24,869.03 284.85,868.93 286.47,869.2 288.08,869.27 289.7,868.85 291.31,868.98 292.93,869.17 294.54,869.15 296.16,869 297.78,869.03 299.39,869.36 301.01,868.95 302.62,868.93 304.24,869.22 305.85,868.99 307.47,869.37 309.08,869.04 310.7,869.15" fill="none" stroke="#000" stroke-width="1.3" stroke-linejoin="round"/>
<polyline points="210.85,867.67 212.62,868.18 214.39,867.53 216.16,868.14 217.92,867.97 219.69,867.67 221.38,868.16 223.08,867.75 224.77,867.9 226.46,867.96 228.15,868.73 229.92,868.17 231.68,868.58 233.44,867.68 235.21,867.71 236.97,867.93 238.73,867.67 240.49,867.08 242.26,867.12 244.02,866.82 245.78,867.18 247.54,866.33 249.31,866.62 251,867.21 252.69,866.73 254.38,866.87 256.08,866.68 257.77,866.62 259.88,866.08 262,865.56 264.12,865.59 266.23,864.5 268.35,863.91 270.46,862.38 271.52,861.36 272.58,859 273.63,858.15 274.16,856.67 274.69,855.51 275.22,853.56 275.75,851.81 276.46,850.06 277.16,848.46 277.87,846.52 278.92,847.72 279.98,849.69 281.04,847.85 282.1,845.46 283.15,843.69 284.21,841.23 284.74,839.13 285.27,838.07 285.8,836.59 286.33,834.88 287.03,832.94 287.74,831.58 288.44,829.6 289.15,828.34 289.85,826.56 290.56,824.31 291.09,821.96 291.62,820.08 292.14,821.25 292.67,823.25 293.2,825.53 293.73,827.09 294.26,829.2 294.79,830.65 295.14,832.86 295.49,833.91 295.85,836.05 296.2,837.47 296.55,839.82 296.9,841.23 297.26,843.22 297.61,844.44 297.96,846.52 298.31,848.4 298.67,849.72 299.02,851.81 299.44,853.12 299.87,855.16 300.29,856.37 300.71,858.57 301.13,860.27 302.19,862.56 303.25,864.19 304.31,865.56 306.42,866.08 308.54,867.67 310.7,868.73" fill="none" stroke="#000" stroke-width="3.1" stroke-linejoin="round"/>
<text transform="translate(198.25 786.7) scale(1.08 1) rotate(-90)" font-size="11" font-weight="normal" text-anchor="middle">200</text>
<text transform="translate(198.25 871.2) scale(1.08 1) rotate(-90)" font-size="11" font-weight="normal" text-anchor="middle">0</text>
<text transform="translate(184.95 831.5) scale(1.08 1) rotate(-90)" font-size="12.5" font-weight="normal" text-anchor="middle">Counts</text>
<text transform="translate(200.25 894.7) scale(1.1 1)" font-size="11" font-weight="normal" text-anchor="start" >10</text>
<text transform="translate(214.45 888.8) scale(1.1 1)" font-size="10.5" font-weight="normal" text-anchor="start" >0</text>
<text transform="translate(225.36 894.7) scale(1.1 1)" font-size="11" font-weight="normal" text-anchor="start" >10</text>
<text transform="translate(239.56 888.8) scale(1.1 1)" font-size="10.5" font-weight="normal" text-anchor="start" >1</text>
<text transform="translate(250.47 894.7) scale(1.1 1)" font-size="11" font-weight="normal" text-anchor="start" >10</text>
<text transform="translate(264.67 888.8) scale(1.1 1)" font-size="10.5" font-weight="normal" text-anchor="start" >2</text>
<text transform="translate(275.59 894.7) scale(1.1 1)" font-size="11" font-weight="normal" text-anchor="start" >10</text>
<text transform="translate(289.79 888.8) scale(1.1 1)" font-size="10.5" font-weight="normal" text-anchor="start" >3</text>
<text transform="translate(300.7 894.7) scale(1.1 1)" font-size="11" font-weight="normal" text-anchor="start" >10</text>
<text transform="translate(314.9 888.8) scale(1.1 1)" font-size="10.5" font-weight="normal" text-anchor="start" >4</text>
<text transform="translate(258.88 907.4) scale(1.08 1)" font-size="11" font-weight="normal" text-anchor="middle" >FL2-H</text>
<text transform="translate(243.4 811.6) scale(1.01 1)" font-size="13" font-weight="bold" text-anchor="start" xml:space="preserve">9 3 %</text>
<path d="M30.95 1020.4H37.95M33.65 1017.06H37.95M33.65 1013.72H37.95M33.65 1010.38H37.95M33.65 1007.04H37.95M30.95 1003.7H37.95M33.65 1000.36H37.95M33.65 997.02H37.95M33.65 993.68H37.95M33.65 990.34H37.95M30.95 987H37.95M33.65 983.66H37.95M33.65 980.32H37.95M33.65 976.98H37.95M33.65 973.64H37.95M30.95 970.3H37.95M33.65 966.96H37.95M33.65 963.62H37.95M33.65 960.28H37.95M33.65 956.94H37.95M30.95 953.6H37.95M33.65 950.26H37.95M33.65 946.92H37.95M33.65 943.58H37.95M33.65 940.24H37.95M30.95 936.9H37.95M37.95 1021V1026.6M45.65 1021V1024.2M50.16 1021V1024.2M53.36 1021V1024.2M55.83 1021V1024.2M57.86 1021V1024.2M59.57 1021V1024.2M61.06 1021V1024.2M62.37 1021V1024.2M63.54 1021V1026.6M71.24 1021V1024.2M75.75 1021V1024.2M78.94 1021V1024.2M81.42 1021V1024.2M83.45 1021V1024.2M85.16 1021V1024.2M86.65 1021V1024.2M87.95 1021V1024.2M89.12 1021V1026.6M96.83 1021V1024.2M101.33 1021V1024.2M104.53 1021V1024.2M107.01 1021V1024.2M109.04 1021V1024.2M110.75 1021V1024.2M112.23 1021V1024.2M113.54 1021V1024.2M114.71 1021V1026.6M122.42 1021V1024.2M126.92 1021V1024.2M130.12 1021V1024.2M132.6 1021V1024.2M134.62 1021V1024.2M136.34 1021V1024.2M137.82 1021V1024.2M139.13 1021V1024.2M140.3 1021V1026.6" stroke="#000" stroke-width="1.35" fill="none"/>
<rect x="37.95" y="935.7" width="102.35" height="85.3" fill="none" stroke="#000" stroke-width="1.8"/>
<polyline points="38.25,958.56 38.28,960.18 38.32,961.66 38.35,963.51 38.38,964.89 38.42,966.65 38.45,968.57 38.48,969.66 38.52,971.42 38.55,973.26 38.58,974.53 38.62,976.19 38.65,978.21 38.68,979.93 38.72,981.15 38.75,982.88 40.65,982.46 41.29,980.37 41.92,978.65 42.13,977.12 42.35,974.92 42.56,973.28 42.77,971.47 42.98,969.67 43.19,968.02 43.4,965.96 43.57,964.59 43.73,962.79 43.9,961.22 44.06,959.56 44.23,957.82 44.39,956.05 44.56,954.28 44.72,952.66 44.88,951.15 45.17,949.83 45.45,948.1 45.73,946.16 46.01,945.05 46.29,943.08 46.58,941.63 47.63,943.34 48.69,944.81 48.9,946.48 49.12,948.05 49.33,949.71 49.54,951.62 49.75,953.22 49.96,955.04 50.17,956.77 50.38,958.54 50.6,960.25 50.81,961.73 51.02,963.5 51.23,965.4 51.44,966.81 51.65,968.73 51.87,970.38 52.08,972.08 52.29,973.35 52.5,975.31 52.71,976.97 52.92,978.65 53.13,980.1 53.35,981.96 53.56,983.74 53.77,985.13 53.98,986.82 54.19,988.86 54.4,990.45 54.62,992.48 54.83,994.09 55.04,995.58 55.3,997.36 55.57,998.93 55.83,1000.17 56.1,1002.06 56.36,1003.27 56.62,1004.88 56.89,1006.61 57.15,1008.27 57.68,1009.7 58.21,1011.16 58.74,1013.04 59.27,1014.62 61.38,1016.73 62.99,1017.02 64.59,1016.5 66.2,1016.6 67.8,1017.02 69.41,1016.79 71.01,1016.76 72.62,1016.74 74.22,1016.99 75.82,1016.79 77.43,1016.76 79.03,1016.74 80.64,1017 82.24,1016.55 83.85,1016.82 85.45,1016.94 87.05,1016.57 88.66,1016.77 90.26,1016.79 91.87,1016.98 93.47,1016.92 95.08,1016.91 96.68,1016.8 98.29,1016.89 99.89,1017.19 101.49,1016.71 103.1,1016.71 104.7,1016.76 106.31,1016.7 107.91,1016.77 109.52,1016.88 111.12,1017.14 112.73,1017.28 114.33,1016.73 115.93,1017.02 117.54,1016.88 119.14,1017.28 120.75,1017.35 122.35,1017.18 123.96,1016.78 125.56,1017.07 127.16,1017.04 128.77,1017.12 130.37,1016.94 131.98,1016.83 133.58,1017.18 135.19,1017.32 136.79,1017.04 138.4,1017.07 140,1017.15" fill="none" stroke="#000" stroke-width="1.3" stroke-linejoin="round"/>
<polyline points="38.25,1016.73 39.99,1016.11 41.73,1016.63 43.47,1016.9 45.21,1016.43 46.95,1015.93 48.69,1016.31 50.38,1015.93 52.08,1016.9 53.77,1016.82 55.46,1016.35 57.15,1016.73 59.27,1016.61 61.38,1016 63.5,1016.31 65.19,1016.25 66.88,1015.49 68.58,1015.69 70.27,1015.78 71.96,1015.67 73.55,1015.37 75.13,1014.9 76.72,1015.08 78.31,1014.62 79.89,1014.05 81.48,1014.43 83.07,1014.22 84.65,1013.56 86.24,1013.38 87.83,1013.58 89.41,1012.46 91,1012.5 93.12,1012.54 95.23,1011.44 96.82,1009.84 98.4,1009.33 99.99,1007.81 101.58,1006.15 102.63,1003.66 103.69,1001.92 104.22,999.87 104.75,998.48 105.28,997.02 105.81,995.58 106.87,993.39 107.92,992.4 111.1,992.4 112.15,990.56 113.21,989.23 113.74,988.15 114.27,986.42 114.8,984.67 115.33,982.88 115.86,981.59 116.38,979.17 116.91,977.64 117.44,975.48 118.5,973.84 119.56,971.25 120.62,969.13 121.67,970.75 122.73,972.31 123.26,973.89 123.79,975.07 124.32,977.59 124.85,978.65 125.2,980.22 125.55,981.82 125.9,983.62 126.26,986.04 126.61,987.21 126.96,989.23 127.31,991.2 127.67,992.92 128.02,995.05 128.37,996.66 128.72,998.59 129.08,999.81 129.5,1001.16 129.92,1002.64 130.35,1004.32 130.77,1006.21 131.19,1008.27 132.25,1009.54 133.31,1011.37 134.37,1013.56 135.95,1014.86 137.54,1015.67 140,1016.73" fill="none" stroke="#000" stroke-width="3.1" stroke-linejoin="round"/>
<text transform="translate(24.65 934.2) scale(1.08 1) rotate(-90)" font-size="11" font-weight="normal" text-anchor="middle">200</text>
<text transform="translate(24.65 1018.7) scale(1.08 1) rotate(-90)" font-size="11" font-weight="normal" text-anchor="middle">0</text>
<text transform="translate(12.35 979) scale(1.08 1) rotate(-90)" font-size="12.5" font-weight="normal" text-anchor="middle">Counts</text>
<text transform="translate(27.65 1042.2) scale(1.1 1)" font-size="11" font-weight="normal" text-anchor="start" >10</text>
<text transform="translate(41.85 1036.3) scale(1.1 1)" font-size="10.5" font-weight="normal" text-anchor="start" >0</text>
<text transform="translate(53.24 1042.2) scale(1.1 1)" font-size="11" font-weight="normal" text-anchor="start" >10</text>
<text transform="translate(67.44 1036.3) scale(1.1 1)" font-size="10.5" font-weight="normal" text-anchor="start" >1</text>
<text transform="translate(78.83 1042.2) scale(1.1 1)" font-size="11" font-weight="normal" text-anchor="start" >10</text>
<text transform="translate(93.03 1036.3) scale(1.1 1)" font-size="10.5" font-weight="normal" text-anchor="start" >2</text>
<text transform="translate(104.41 1042.2) scale(1.1 1)" font-size="11" font-weight="normal" text-anchor="start" >10</text>
<text transform="translate(118.61 1036.3) scale(1.1 1)" font-size="10.5" font-weight="normal" text-anchor="start" >3</text>
<text transform="translate(130 1042.2) scale(1.1 1)" font-size="11" font-weight="normal" text-anchor="start" >10</text>
<text transform="translate(144.2 1036.3) scale(1.1 1)" font-size="10.5" font-weight="normal" text-anchor="start" >4</text>
<text transform="translate(87.22 1054.9) scale(1.08 1)" font-size="11" font-weight="normal" text-anchor="middle" >FL2-H</text>
<text transform="translate(67.1 955.4) scale(1.01 1)" font-size="13" font-weight="bold" text-anchor="start" xml:space="preserve">9 2 %</text>
<path d="M202.5 1021H209.5M205.2 1017.66H209.5M205.2 1014.32H209.5M205.2 1010.98H209.5M205.2 1007.64H209.5M202.5 1004.3H209.5M205.2 1000.96H209.5M205.2 997.62H209.5M205.2 994.28H209.5M205.2 990.94H209.5M202.5 987.6H209.5M205.2 984.26H209.5M205.2 980.92H209.5M205.2 977.58H209.5M205.2 974.24H209.5M202.5 970.9H209.5M205.2 967.56H209.5M205.2 964.22H209.5M205.2 960.88H209.5M205.2 957.54H209.5M202.5 954.2H209.5M205.2 950.86H209.5M205.2 947.52H209.5M205.2 944.18H209.5M205.2 940.84H209.5M202.5 937.5H209.5M209.5 1021.6V1027.2M217.14 1021.6V1024.8M221.61 1021.6V1024.8M224.78 1021.6V1024.8M227.24 1021.6V1024.8M229.25 1021.6V1024.8M230.94 1021.6V1024.8M232.42 1021.6V1024.8M233.71 1021.6V1024.8M234.88 1021.6V1027.2M242.51 1021.6V1024.8M246.98 1021.6V1024.8M250.15 1021.6V1024.8M252.61 1021.6V1024.8M254.62 1021.6V1024.8M256.32 1021.6V1024.8M257.79 1021.6V1024.8M259.09 1021.6V1024.8M260.25 1021.6V1027.2M267.89 1021.6V1024.8M272.36 1021.6V1024.8M275.53 1021.6V1024.8M277.99 1021.6V1024.8M280 1021.6V1024.8M281.69 1021.6V1024.8M283.17 1021.6V1024.8M284.46 1021.6V1024.8M285.62 1021.6V1027.2M293.26 1021.6V1024.8M297.73 1021.6V1024.8M300.9 1021.6V1024.8M303.36 1021.6V1024.8M305.37 1021.6V1024.8M307.07 1021.6V1024.8M308.54 1021.6V1024.8M309.84 1021.6V1024.8M311 1021.6V1027.2" stroke="#000" stroke-width="1.35" fill="none"/>
<rect x="209.5" y="936.3" width="101.5" height="85.3" fill="none" stroke="#000" stroke-width="1.8"/>
<polyline points="209.8,980.77 210.07,982.24 210.35,984.02 210.62,985.45 210.89,987.47 211.16,988.74 211.44,990.56 211.71,992.42 211.98,993.73 212.26,995.69 212.53,997.18 212.8,998.7 213.07,1000.37 213.35,1001.92 215.46,1004.04 215.81,1002.33 216.17,1000.43 216.52,999.05 216.87,996.93 217.22,995.51 217.58,993.46 217.81,992.03 218.05,989.89 218.28,988.38 218.52,986.87 218.75,985.42 218.99,983.4 219.22,982.01 219.46,980.22 219.69,978.65 219.96,977.24 220.22,975.74 220.49,974.05 220.75,972.12 221.01,970.88 221.28,969.1 221.54,967.75 221.81,965.96 222.34,964.36 222.87,963.03 223.39,961.49 223.92,959.62 224.24,958.22 224.56,956.64 224.88,955.05 225.19,953.32 225.51,951.49 225.83,950.39 226.14,948.49 226.46,946.92 226.88,948.22 227.31,950.06 227.73,951.63 228.15,953.27 228.42,954.68 228.68,956.72 228.95,957.8 229.21,959.86 229.48,961.23 229.74,962.6 230,964.29 230.27,965.96 230.5,967.58 230.74,969.02 230.97,971.06 231.21,972.63 231.44,974.48 231.68,976.03 231.91,977.65 232.15,979.42 232.38,980.77 232.62,982.67 232.85,984.15 233.09,985.73 233.32,987.36 233.56,989.18 233.79,990.9 234.03,992.48 234.26,994.14 234.5,995.58 234.76,996.88 235.03,998.7 235.29,1000.09 235.56,1001.97 235.82,1003.56 236.09,1005.13 236.35,1006.9 236.62,1008.27 237.14,1009.69 237.67,1011.58 238.2,1013.08 238.73,1014.62 240.85,1015.5 242.96,1016.73 244.62,1017.04 246.27,1016.5 247.93,1016.76 249.58,1016.83 251.24,1016.88 252.89,1017.13 254.55,1016.89 256.21,1017.11 257.86,1016.77 259.52,1016.9 261.17,1016.72 262.83,1017.04 264.48,1016.92 266.14,1017.16 267.79,1016.77 269.45,1017 271.11,1017.32 272.76,1016.77 274.42,1017.18 276.07,1017.21 277.73,1017.25 279.38,1017.17 281.04,1017.15" fill="none" stroke="#000" stroke-width="1.3" stroke-linejoin="round"/>
<polyline points="209.8,1010.38 211.69,1010.03 213.57,1010.23 215.46,1009.33 217.58,1008.75 219.69,1008.69 221.1,1007.74 222.51,1006.5 223.92,1005.1 227.1,1005.1 228.68,1004.31 230.27,1002.98 231.33,1001.54 232.38,999.58 233.44,998.75 235.56,998.34 237.67,997.27 239.26,997.74 240.85,998.75 244.02,998.75 245.61,998.56 247.19,997.69 249.31,997.22 251.42,995.58 253.01,995.38 254.6,994.52 256.71,992.4 257.42,994.05 258.12,996.36 258.83,997.69 259.88,999.67 260.94,1001.92 262.53,1002.76 264.12,1004.04 265.17,1005.53 266.23,1007.04 267.29,1008.27 268.88,1010.08 270.46,1011.44 271.87,1012.56 273.28,1013.45 274.69,1014.62 276.81,1015.96 278.92,1016.73 281.04,1017.58 283.15,1018.85 285.27,1018.85 287.38,1018.85 289.08,1018.93 290.77,1019.02 292.46,1019.1 294.15,1019.18 295.85,1019.27 297.5,1019.34 299.15,1019.41 300.8,1019.48 302.45,1019.55 304.1,1019.62 305.75,1019.69 307.4,1019.76 309.05,1019.83 310.7,1019.9" fill="none" stroke="#000" stroke-width="3.1" stroke-linejoin="round"/>
<text transform="translate(197.2 934.8) scale(1.08 1) rotate(-90)" font-size="11" font-weight="normal" text-anchor="middle">200</text>
<text transform="translate(197.2 1019.3) scale(1.08 1) rotate(-90)" font-size="11" font-weight="normal" text-anchor="middle">0</text>
<text transform="translate(183.9 979.6) scale(1.08 1) rotate(-90)" font-size="12.5" font-weight="normal" text-anchor="middle">Counts</text>
<text transform="translate(199.2 1042.8) scale(1.1 1)" font-size="11" font-weight="normal" text-anchor="start" >10</text>
<text transform="translate(213.4 1036.9) scale(1.1 1)" font-size="10.5" font-weight="normal" text-anchor="start" >0</text>
<text transform="translate(224.57 1042.8) scale(1.1 1)" font-size="11" font-weight="normal" text-anchor="start" >10</text>
<text transform="translate(238.78 1036.9) scale(1.1 1)" font-size="10.5" font-weight="normal" text-anchor="start" >1</text>
<text transform="translate(249.95 1042.8) scale(1.1 1)" font-size="11" font-weight="normal" text-anchor="start" >10</text>
<text transform="translate(264.15 1036.9) scale(1.1 1)" font-size="10.5" font-weight="normal" text-anchor="start" >2</text>
<text transform="translate(275.32 1042.8) scale(1.1 1)" font-size="11" font-weight="normal" text-anchor="start" >10</text>
<text transform="translate(289.52 1036.9) scale(1.1 1)" font-size="10.5" font-weight="normal" text-anchor="start" >3</text>
<text transform="translate(300.7 1042.8) scale(1.1 1)" font-size="11" font-weight="normal" text-anchor="start" >10</text>
<text transform="translate(314.9 1036.9) scale(1.1 1)" font-size="10.5" font-weight="normal" text-anchor="start" >4</text>
<text transform="translate(258.35 1055.5) scale(1.08 1)" font-size="11" font-weight="normal" text-anchor="middle" >FL1-H</text>
<text transform="translate(267.7 958.6) scale(1.01 1)" font-size="13" font-weight="bold" text-anchor="start" xml:space="preserve">4 0 %</text>
<path d="M31.4 1167.7H38.4M34.1 1164.36H38.4M34.1 1161.02H38.4M34.1 1157.68H38.4M34.1 1154.34H38.4M31.4 1151H38.4M34.1 1147.66H38.4M34.1 1144.32H38.4M34.1 1140.98H38.4M34.1 1137.64H38.4M31.4 1134.3H38.4M34.1 1130.96H38.4M34.1 1127.62H38.4M34.1 1124.28H38.4M34.1 1120.94H38.4M31.4 1117.6H38.4M34.1 1114.26H38.4M34.1 1110.92H38.4M34.1 1107.58H38.4M34.1 1104.24H38.4M31.4 1100.9H38.4M34.1 1097.56H38.4M34.1 1094.22H38.4M34.1 1090.88H38.4M34.1 1087.54H38.4M31.4 1084.2H38.4M38.4 1168.3V1173.9M46.07 1168.3V1171.5M50.55 1168.3V1171.5M53.74 1168.3V1171.5M56.21 1168.3V1171.5M58.22 1168.3V1171.5M59.93 1168.3V1171.5M61.41 1168.3V1171.5M62.71 1168.3V1171.5M63.88 1168.3V1173.9M71.54 1168.3V1171.5M76.03 1168.3V1171.5M79.21 1168.3V1171.5M81.68 1168.3V1171.5M83.7 1168.3V1171.5M85.4 1168.3V1171.5M86.88 1168.3V1171.5M88.18 1168.3V1171.5M89.35 1168.3V1173.9M97.02 1168.3V1171.5M101.5 1168.3V1171.5M104.69 1168.3V1171.5M107.16 1168.3V1171.5M109.17 1168.3V1171.5M110.88 1168.3V1171.5M112.36 1168.3V1171.5M113.66 1168.3V1171.5M114.83 1168.3V1173.9M122.49 1168.3V1171.5M126.98 1168.3V1171.5M130.16 1168.3V1171.5M132.63 1168.3V1171.5M134.65 1168.3V1171.5M136.35 1168.3V1171.5M137.83 1168.3V1171.5M139.13 1168.3V1171.5M140.3 1168.3V1173.9" stroke="#000" stroke-width="1.35" fill="none"/>
<rect x="38.4" y="1083" width="101.9" height="85.3" fill="none" stroke="#000" stroke-width="1.8"/>
<polygon points="39,1108 41.5,1110 43.5,1113 43,1125 42.5,1139 39,1139" fill="#000"/>
<polyline points="38.7,1128.77 39.43,1126.96 40.16,1125.43 40.89,1123.55 41.62,1122.18 42.35,1120.31 42.54,1118.56 42.73,1116.75 42.92,1115.35 43.12,1113.56 43.31,1111.87 43.5,1110.02 43.69,1108 43.88,1106.4 44.08,1104.57 44.27,1103.18 44.46,1101.27 44.81,1099.21 45.17,1097.92 45.52,1095.78 45.87,1094.1 46.22,1092.53 46.58,1090.69 47.63,1092.38 48.69,1093.87 48.96,1095.59 49.22,1097.34 49.49,1099.07 49.75,1100.8 50.01,1102.22 50.28,1104.06 50.54,1105.61 50.81,1107.62 51.02,1109.35 51.23,1110.88 51.44,1112.54 51.65,1114.25 51.87,1116.34 52.08,1117.55 52.29,1119.7 52.5,1121.4 52.71,1122.67 52.92,1124.54 53.13,1126.43 53.35,1127.74 53.56,1129.7 53.77,1131.08 53.98,1132.89 54.19,1134.69 54.4,1136.31 54.62,1138.27 54.83,1139.86 55.04,1141.46 55.3,1142.77 55.57,1144.67 55.83,1145.98 56.1,1147.61 56.36,1149.33 56.62,1150.87 56.89,1152.6 57.15,1154.15 57.68,1156.29 58.21,1158.02 58.74,1159.73 59.27,1161.56 60.33,1163.35 61.38,1164.73 62.99,1164.54 64.59,1164.88 66.2,1165.04 67.8,1165.03 69.41,1164.78 71.01,1164.84 72.62,1164.72 74.22,1164.76 75.82,1165.1 77.43,1164.6 79.03,1165.04 80.64,1164.67 82.24,1164.88 83.85,1164.88 85.45,1164.59 87.05,1164.86 88.66,1164.59 90.26,1165.15 91.87,1165.16 93.47,1164.95 95.08,1165.07 96.68,1165.06 98.29,1164.75 99.89,1164.68 101.49,1164.87 103.1,1164.91 104.7,1164.96 106.31,1165.08 107.91,1165.14 109.52,1165.03 111.12,1164.7 112.73,1164.91 114.33,1165.09 115.93,1165.26 117.54,1164.74 119.14,1165.18 120.75,1165.04 122.35,1164.96 123.96,1165.29 125.56,1164.95 127.16,1164.92 128.77,1165.12 130.37,1165.19 131.98,1164.91 133.58,1165.13 135.19,1164.99 136.79,1165.3 138.4,1164.88 140,1165.15" fill="none" stroke="#000" stroke-width="1.3" stroke-linejoin="round"/>
<polyline points="38.7,1137.23 38.96,1135.95 39.22,1133.83 39.48,1131.8 39.74,1130.24 39.99,1129.04 40.25,1127.11 40.51,1124.92 40.77,1123.27 41.03,1121.49 41.29,1120.31 41.46,1118.59 41.64,1117.01 41.82,1114.54 41.99,1113.66 42.17,1111.56 42.35,1109.73 42.63,1108.37 42.91,1105.9 43.19,1104.07 43.47,1102.76 43.76,1101.4 44.04,1099.15 44.74,1097.31 45.45,1095.51 46.15,1093.87 47.63,1094.92 48.16,1096.58 48.69,1097.52 49.22,1099.3 49.75,1101.27 50.1,1102.87 50.46,1105.12 50.81,1106.5 51.16,1108.52 51.51,1109.97 51.87,1111.85 52.1,1113.6 52.34,1115.21 52.57,1116.24 52.81,1118.55 53.04,1120 53.28,1121.96 53.51,1123.29 53.75,1124.55 53.98,1126.65 54.22,1127.77 54.45,1130.03 54.69,1131.81 54.92,1133.57 55.16,1134.49 55.39,1135.97 55.63,1137.75 55.86,1140.32 56.1,1141.46 56.45,1143.33 56.8,1144.5 57.15,1147.07 57.51,1148.67 57.86,1150.66 58.21,1152.04 58.74,1153.55 59.27,1156.25 59.8,1157.53 60.33,1159.44 61.38,1161.81 62.44,1163.67 64.21,1163.56 65.97,1164.82 67.73,1164.73 69.85,1165.14 71.96,1164.46 74.08,1164.31 76.19,1163.79 78.31,1163.04 80.42,1162.1 82.54,1162.19 84.3,1162.39 86.06,1162.42 87.83,1162.19 89.41,1163.01 91,1163.04 93.12,1164.02 95.23,1164.31 96.92,1164.09 98.62,1164.81 100.31,1164.69 102,1164.16 103.69,1164.73 105.38,1164.22 107.08,1164.4 108.77,1164.41 110.46,1164.96 112.15,1164.97 113.85,1165.23 115.54,1165.04 117.23,1165.12 118.92,1165.18 120.62,1165.15 122.23,1164.64 123.85,1165.14 125.46,1165.2 127.08,1164.8 128.69,1164.81 130.31,1165.7 131.92,1165.06 133.54,1164.63 135.15,1164.7 136.77,1165.25 138.38,1165.66 140,1165.15" fill="none" stroke="#000" stroke-width="3.1" stroke-linejoin="round"/>
<text transform="translate(25.1 1081.5) scale(1.08 1) rotate(-90)" font-size="11" font-weight="normal" text-anchor="middle">200</text>
<text transform="translate(25.1 1166) scale(1.08 1) rotate(-90)" font-size="11" font-weight="normal" text-anchor="middle">0</text>
<text transform="translate(12.8 1126.3) scale(1.08 1) rotate(-90)" font-size="12.5" font-weight="normal" text-anchor="middle">Counts</text>
<text transform="translate(28.1 1189.5) scale(1.1 1)" font-size="11" font-weight="normal" text-anchor="start" >10</text>
<text transform="translate(42.3 1183.6) scale(1.1 1)" font-size="10.5" font-weight="normal" text-anchor="start" >0</text>
<text transform="translate(53.58 1189.5) scale(1.1 1)" font-size="11" font-weight="normal" text-anchor="start" >10</text>
<text transform="translate(67.78 1183.6) scale(1.1 1)" font-size="10.5" font-weight="normal" text-anchor="start" >1</text>
<text transform="translate(79.05 1189.5) scale(1.1 1)" font-size="11" font-weight="normal" text-anchor="start" >10</text>
<text transform="translate(93.25 1183.6) scale(1.1 1)" font-size="10.5" font-weight="normal" text-anchor="start" >2</text>
<text transform="translate(104.53 1189.5) scale(1.1 1)" font-size="11" font-weight="normal" text-anchor="start" >10</text>
<text transform="translate(118.73 1183.6) scale(1.1 1)" font-size="10.5" font-weight="normal" text-anchor="start" >3</text>
<text transform="translate(130 1189.5) scale(1.1 1)" font-size="11" font-weight="normal" text-anchor="start" >10</text>
<text transform="translate(144.2 1183.6) scale(1.1 1)" font-size="10.5" font-weight="normal" text-anchor="start" >4</text>
<text transform="translate(87.45 1202.2) scale(1.08 1)" font-size="11" font-weight="normal" text-anchor="middle" >FL2-H</text>
<text transform="translate(105.5 1103.8) scale(1.01 1)" font-size="13" font-weight="bold" text-anchor="start" xml:space="preserve">1 %</text>
<path d="M202.2 1168.7H209.2M204.9 1165.36H209.2M204.9 1162.02H209.2M204.9 1158.68H209.2M204.9 1155.34H209.2M202.2 1152H209.2M204.9 1148.66H209.2M204.9 1145.32H209.2M204.9 1141.98H209.2M204.9 1138.64H209.2M202.2 1135.3H209.2M204.9 1131.96H209.2M204.9 1128.62H209.2M204.9 1125.28H209.2M204.9 1121.94H209.2M202.2 1118.6H209.2M204.9 1115.26H209.2M204.9 1111.92H209.2M204.9 1108.58H209.2M204.9 1105.24H209.2M202.2 1101.9H209.2M204.9 1098.56H209.2M204.9 1095.22H209.2M204.9 1091.88H209.2M204.9 1088.54H209.2M202.2 1085.2H209.2M209.2 1169.3V1174.9M216.87 1169.3V1172.5M221.35 1169.3V1172.5M224.54 1169.3V1172.5M227.01 1169.3V1172.5M229.02 1169.3V1172.5M230.73 1169.3V1172.5M232.21 1169.3V1172.5M233.51 1169.3V1172.5M234.68 1169.3V1174.9M242.34 1169.3V1172.5M246.83 1169.3V1172.5M250.01 1169.3V1172.5M252.48 1169.3V1172.5M254.5 1169.3V1172.5M256.2 1169.3V1172.5M257.68 1169.3V1172.5M258.98 1169.3V1172.5M260.15 1169.3V1174.9M267.82 1169.3V1172.5M272.3 1169.3V1172.5M275.49 1169.3V1172.5M277.96 1169.3V1172.5M279.97 1169.3V1172.5M281.68 1169.3V1172.5M283.16 1169.3V1172.5M284.46 1169.3V1172.5M285.62 1169.3V1174.9M293.29 1169.3V1172.5M297.78 1169.3V1172.5M300.96 1169.3V1172.5M303.43 1169.3V1172.5M305.45 1169.3V1172.5M307.15 1169.3V1172.5M308.63 1169.3V1172.5M309.93 1169.3V1172.5M311.1 1169.3V1174.9" stroke="#000" stroke-width="1.35" fill="none"/>
<rect x="209.2" y="1084" width="101.9" height="85.3" fill="none" stroke="#000" stroke-width="1.8"/>
<polyline points="209.5,1128.77 210.18,1127.07 210.87,1125.42 211.55,1123.88 212.24,1121.89 212.92,1120.31 213.13,1118.39 213.35,1116.8 213.56,1114.86 213.77,1112.97 213.98,1111.19 214.19,1109.33 214.4,1107.62 214.64,1105.77 214.87,1104.4 215.11,1102.92 215.34,1101.15 215.58,1099.47 215.81,1097.65 216.05,1096.06 216.28,1094.24 216.52,1092.81 216.94,1091.25 217.37,1089.3 217.79,1087.61 218.21,1086.33 218.63,1084.35 221.38,1084.35 221.68,1085.94 221.98,1088.02 222.27,1089.49 222.57,1091.27 222.87,1092.81 223.08,1094.58 223.29,1096 223.5,1098.01 223.71,1099.43 223.92,1101.21 224.13,1102.74 224.35,1104.39 224.56,1106.27 224.77,1107.75 224.98,1109.73 225.19,1111.35 225.4,1113.33 225.62,1115.11 225.83,1116.45 226.04,1117.96 226.25,1119.79 226.46,1121.32 226.67,1123.1 226.88,1125.03 227.1,1126.65 227.36,1128.31 227.62,1129.55 227.89,1131.41 228.15,1132.95 228.42,1134.53 228.68,1135.95 228.95,1137.7 229.21,1139.35 229.63,1140.8 230.06,1142.84 230.48,1144.51 230.9,1146.19 231.33,1147.81 232.03,1149.52 232.74,1151.61 233.44,1153.1 234.5,1154.43 235.56,1155.74 236.62,1157.33 238.03,1158.31 239.44,1159.69 240.85,1160.5 242.96,1161.35 245.08,1162.62 247.19,1163.3 249.31,1163.67 251.42,1164.46 253.54,1164.73 255.65,1165.08 257.77,1164.99 259.88,1165.15 261.53,1165.14 263.17,1165.42 264.81,1165.34 266.45,1165.42 268.1,1165.06 269.74,1165.34 271.38,1165.44 273.02,1165.16 274.67,1165.16 276.31,1165.56 277.95,1165.42 279.59,1165.35 281.24,1165.41 282.88,1165.29 284.52,1165.31 286.16,1165.25 287.81,1165.44 289.45,1165.31 291.09,1165.78 292.73,1165.84 294.38,1165.64 296.02,1165.36 297.66,1165.68 299.3,1165.44 300.95,1165.59 302.59,1165.46 304.23,1165.71 305.87,1165.47 307.52,1165.62 309.16,1165.61 310.8,1165.79" fill="none" stroke="#000" stroke-width="1.3" stroke-linejoin="round"/>
<polyline points="209.5,1162.62 211.49,1162.22 213.47,1162.43 215.46,1161.56 217.05,1160.07 218.63,1158.38 220.22,1158.19 221.81,1157.33 223.92,1156.54 226.04,1155.21 227.62,1154.19 229.21,1153.1 230.8,1152.26 232.38,1152.46 234.5,1152.78 236.62,1154.15 238.73,1154.24 240.85,1155.21 242.96,1154.7 245.08,1154.15 246.13,1152.55 247.19,1151.85 248.25,1149.92 249.04,1147.98 249.84,1146.31 250.63,1145.33 251.42,1143.58 252.22,1142.12 253.01,1139.87 253.8,1138.63 254.6,1137.23 255.39,1135.58 256.18,1134.45 256.98,1132.81 257.77,1130.88 258.47,1129.57 259.18,1127.4 259.88,1125.6 262,1127.71 264.12,1129.83 265.17,1131.94 266.23,1133 268.35,1135.12 269.4,1137.2 270.46,1139.35 271.17,1140.86 271.87,1142.44 272.58,1144.63 273.63,1146.62 274.69,1147.81 275.75,1145.87 276.81,1143.58 277.87,1141.6 278.92,1139.35 279.98,1141.51 281.04,1142.52 282.1,1144.26 283.15,1145.69 284.74,1146.52 286.33,1147.81 288.44,1149.92 289.5,1152.27 290.56,1154.15 291.62,1156.78 292.67,1158.38 293.73,1160.11 294.79,1162.62 296.38,1164.21 297.96,1164.73 299.57,1164.74 301.17,1164.48 302.78,1165.06 304.38,1165.49 305.99,1165.25 307.59,1165.09 309.2,1165.79 310.8,1165.58" fill="none" stroke="#000" stroke-width="3.1" stroke-linejoin="round"/>
<text transform="translate(196.9 1082.5) scale(1.08 1) rotate(-90)" font-size="11" font-weight="normal" text-anchor="middle">200</text>
<text transform="translate(196.9 1167) scale(1.08 1) rotate(-90)" font-size="11" font-weight="normal" text-anchor="middle">0</text>
<text transform="translate(183.6 1127.3) scale(1.08 1) rotate(-90)" font-size="12.5" font-weight="normal" text-anchor="middle">Counts</text>
<text transform="translate(198.9 1190.5) scale(1.1 1)" font-size="11" font-weight="normal" text-anchor="start" >10</text>
<text transform="translate(213.1 1184.6) scale(1.1 1)" font-size="10.5" font-weight="normal" text-anchor="start" >0</text>
<text transform="translate(224.38 1190.5) scale(1.1 1)" font-size="11" font-weight="normal" text-anchor="start" >10</text>
<text transform="translate(238.58 1184.6) scale(1.1 1)" font-size="10.5" font-weight="normal" text-anchor="start" >1</text>
<text transform="translate(249.85 1190.5) scale(1.1 1)" font-size="11" font-weight="normal" text-anchor="start" >10</text>
<text transform="translate(264.05 1184.6) scale(1.1 1)" font-size="10.5" font-weight="normal" text-anchor="start" >2</text>
<text transform="translate(275.32 1190.5) scale(1.1 1)" font-size="11" font-weight="normal" text-anchor="start" >10</text>
<text transform="translate(289.52 1184.6) scale(1.1 1)" font-size="10.5" font-weight="normal" text-anchor="start" >3</text>
<text transform="translate(300.8 1190.5) scale(1.1 1)" font-size="11" font-weight="normal" text-anchor="start" >10</text>
<text transform="translate(315 1184.6) scale(1.1 1)" font-size="10.5" font-weight="normal" text-anchor="start" >4</text>
<text transform="translate(258.25 1203.2) scale(1.08 1)" font-size="11" font-weight="normal" text-anchor="middle" >FL2-H</text>
<text transform="translate(267.7 1105.1) scale(1.01 1)" font-size="13" font-weight="bold" text-anchor="start" xml:space="preserve">7 6 %</text>
<text transform="translate(378.9 252.2) scale(1.04 1)" font-size="21" font-weight="bold" text-anchor="start" >CD7</text>
<text transform="translate(378.8 401.5) scale(1.04 1)" font-size="21" font-weight="bold" text-anchor="start" >CD34</text>
<text transform="translate(377.3 541.9) scale(1.04 1)" font-size="21" font-weight="bold" text-anchor="start" >CD80</text>
<text transform="translate(377.3 696.7) scale(1.04 1)" font-size="21" font-weight="bold" text-anchor="start" >CD86</text>
<text transform="translate(375 848.8) scale(1.02 1)" font-size="21" font-weight="bold" text-anchor="start" >HLA-CLASS</text>
<text transform="translate(514 848.8) scale(1.02 1)" font-size="21" font-weight="bold" text-anchor="start" >I</text>
<text transform="translate(376.2 995.3) scale(1.04 1)" font-size="21" font-weight="bold" text-anchor="start" letter-spacing="0.5">HLA-DR</text>
<text transform="translate(375.4 1137.3) scale(1.04 1)" font-size="21" font-weight="bold" text-anchor="start" >CD1a</text>
</svg>
</body></html>
